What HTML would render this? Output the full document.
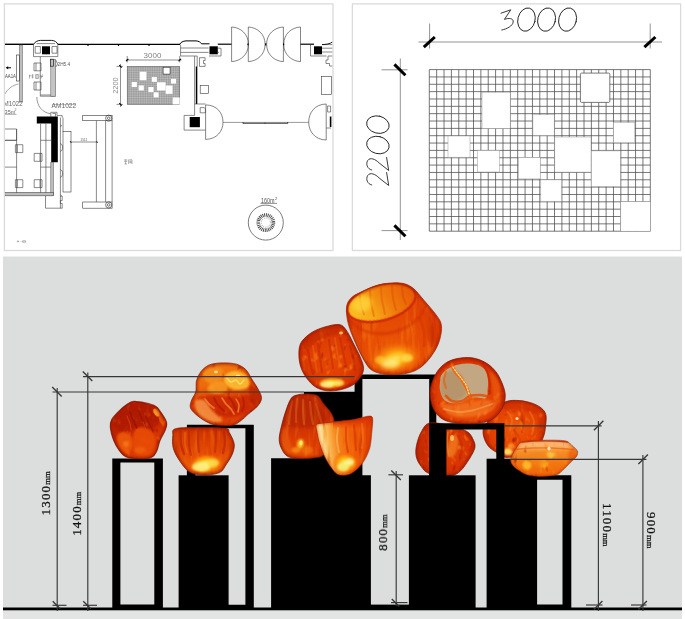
<!DOCTYPE html>
<html><head><meta charset="utf-8"><title>Glass installation</title>
<style>
html,body{margin:0;padding:0;background:#fff;}
body{width:685px;height:619px;overflow:hidden;font-family:"Liberation Sans",sans-serif;}
svg{display:block}
text{font-family:"Liberation Sans",sans-serif}
.serif{font-family:"Liberation Serif",serif}
</style></head><body>
<svg width="685" height="619" viewBox="0 0 685 619">
<defs>
<filter id="b05" color-interpolation-filters="sRGB" x="-30%" y="-30%" width="160%" height="160%"><feGaussianBlur stdDeviation="0.7"/></filter>
<filter id="soft" color-interpolation-filters="sRGB" x="-5%" y="-5%" width="110%" height="110%"><feGaussianBlur stdDeviation="0.45"/></filter>
<filter id="b1" color-interpolation-filters="sRGB" x="-20%" y="-20%" width="140%" height="140%"><feGaussianBlur stdDeviation="1"/></filter>
<filter id="b2" color-interpolation-filters="sRGB" x="-30%" y="-30%" width="160%" height="160%"><feGaussianBlur stdDeviation="2"/></filter>
<filter id="b3" color-interpolation-filters="sRGB" x="-40%" y="-40%" width="180%" height="180%"><feGaussianBlur stdDeviation="3.2"/></filter>
<filter id="mottle" color-interpolation-filters="sRGB" x="0" y="0" width="100%" height="100%">
  <feTurbulence type="fractalNoise" baseFrequency="0.16 0.11" numOctaves="2" seed="7" result="n"/>
  <feColorMatrix in="n" type="matrix" values="0 0 0 0 1  0 0 0 0 0.6  0 0 0 0 0.18  2.6 0 0 0 -1.5" result="hi"/>
  <feColorMatrix in="n" type="matrix" values="0 0 0 0 0.66  0 0 0 0 0.1  0 0 0 0 0.01  0 -2.8 0 0 1.0" result="lo"/>
  <feComposite in="hi" in2="SourceGraphic" operator="in" result="hi2"/>
  <feComposite in="lo" in2="SourceGraphic" operator="in" result="lo2"/>
  <feMerge><feMergeNode in="SourceGraphic"/><feMergeNode in="lo2"/><feMergeNode in="hi2"/></feMerge>
</filter>
<filter id="streak" color-interpolation-filters="sRGB" x="0" y="0" width="100%" height="100%">
  <feTurbulence type="fractalNoise" baseFrequency="0.22 0.035" numOctaves="2" seed="11" result="n"/>
  <feColorMatrix in="n" type="matrix" values="0 0 0 0 0.97  0 0 0 0 0.56  0 0 0 0 0.16  1.5 0 0 0 -0.72" result="hi"/>
  <feColorMatrix in="n" type="matrix" values="0 0 0 0 0.74  0 0 0 0 0.16  0 0 0 0 0.01  0 -1.8 0 0 0.7" result="lo"/>
  <feComposite in="hi" in2="SourceGraphic" operator="in" result="hi2"/>
  <feComposite in="lo" in2="SourceGraphic" operator="in" result="lo2"/>
  <feMerge><feMergeNode in="SourceGraphic"/><feMergeNode in="lo2"/><feMergeNode in="hi2"/></feMerge>
</filter>
<radialGradient id="glow" cx="50%" cy="50%" r="50%">
  <stop offset="0" stop-color="#fff6b0"/><stop offset="0.35" stop-color="#ffd23a"/><stop offset="0.7" stop-color="#ff9a18" stop-opacity="0.75"/><stop offset="1" stop-color="#f06a10" stop-opacity="0"/>
</radialGradient>
<radialGradient id="hl" cx="50%" cy="50%" r="50%">
  <stop offset="0" stop-color="#ffc860"/><stop offset="0.6" stop-color="#f89830" stop-opacity="0.7"/><stop offset="1" stop-color="#f07818" stop-opacity="0"/>
</radialGradient>
<radialGradient id="dk" cx="50%" cy="50%" r="50%">
  <stop offset="0" stop-color="#b42a04" stop-opacity="0.85"/><stop offset="1" stop-color="#c23206" stop-opacity="0"/>
</radialGradient>

<filter id="vsoft" color-interpolation-filters="sRGB" x="-5%" y="-5%" width="110%" height="110%">
  <feGaussianBlur stdDeviation="0.45"/>
  <feComponentTransfer><feFuncR type="gamma" exponent="1.05" amplitude="1" offset="0"/><feFuncG type="gamma" exponent="1.18" amplitude="1" offset="0"/><feFuncB type="gamma" exponent="1.4" amplitude="1" offset="0"/></feComponentTransfer>
</filter>
<radialGradient id="glow2" cx="50%" cy="55%" r="50%">
  <stop offset="0" stop-color="#ffe070"/><stop offset="0.3" stop-color="#ffc030"/><stop offset="0.65" stop-color="#f89018" stop-opacity="0.7"/><stop offset="1" stop-color="#f06a10" stop-opacity="0"/>
</radialGradient>

<linearGradient id="g1" gradientUnits="userSpaceOnUse" x1="125" y1="402" x2="150" y2="458"><stop offset="0" stop-color="#b82a08"/><stop offset="0.45" stop-color="#c4300a"/><stop offset="0.7" stop-color="#d8440c"/><stop offset="1" stop-color="#e4540e"/></linearGradient>
<clipPath id="c1"><path d="M133.6 401.4C136.6 401.2 141.5 402.1 145.2 402.9C148.9 403.7 153.0 404.7 155.6 406.2C158.2 407.7 158.9 409.3 160.7 412.0C162.5 414.7 165.8 419.3 166.6 422.3C167.4 425.3 166.4 427.1 165.3 430.1C164.2 433.1 161.5 437.0 160.1 440.4C158.7 443.8 158.3 447.9 156.9 450.7C155.5 453.5 154.7 455.8 151.7 457.2C148.7 458.6 143.1 458.9 138.8 458.8C134.5 458.7 129.0 458.2 125.8 456.8C122.6 455.4 121.4 453.4 119.4 450.7C117.4 448.0 115.1 444.3 113.6 440.4C112.1 436.5 110.6 430.9 110.3 427.5C110.0 424.1 110.1 422.5 111.6 419.7C113.1 416.9 116.8 413.3 119.4 410.7C122.0 408.1 124.7 405.8 127.1 404.2C129.5 402.6 130.6 401.6 133.6 401.4Z"/></clipPath>
<linearGradient id="g3" gradientUnits="userSpaceOnUse" x1="215" y1="362" x2="232" y2="426"><stop offset="0" stop-color="#f08a26"/><stop offset="0.3" stop-color="#ee7a1c"/><stop offset="0.5" stop-color="#e45a10"/><stop offset="0.8" stop-color="#dc460a"/><stop offset="1" stop-color="#e4561a"/></linearGradient>
<clipPath id="c3"><path d="M211.5 364.2C214.6 363.4 219.2 362.9 223.4 362.9C227.6 362.9 232.8 363.1 236.5 364.2C240.2 365.3 243.2 367.1 245.7 369.5C248.2 371.9 249.4 375.2 251.6 378.7C253.8 382.2 257.2 387.2 258.8 390.5C260.4 393.8 261.7 395.8 261.5 398.4C261.3 401.0 259.7 403.6 257.5 406.2C255.3 408.8 251.1 411.6 248.3 414.1C245.5 416.6 243.2 419.1 240.5 421.0C237.8 422.9 236.1 424.6 232.0 425.3C227.9 426.0 220.3 425.6 216.0 425.0C211.7 424.4 209.3 423.2 206.0 421.5C202.7 419.8 198.6 416.8 196.0 414.5C193.4 412.2 191.1 410.1 190.4 407.6C189.7 405.1 190.9 402.3 191.8 399.7C192.7 397.1 195.0 394.9 195.8 391.8C196.6 388.7 195.8 384.4 196.4 381.3C197.1 378.2 198.3 375.7 199.7 373.4C201.1 371.1 203.0 369.0 205.0 367.5C207.0 366.0 208.4 365.0 211.5 364.2Z"/></clipPath>
<linearGradient id="g2" gradientUnits="userSpaceOnUse" x1="200" y1="427" x2="200" y2="476"><stop offset="0" stop-color="#cc3c08"/><stop offset="0.2" stop-color="#d8480a"/><stop offset="0.5" stop-color="#e4580e"/><stop offset="0.8" stop-color="#ec6c12"/><stop offset="1" stop-color="#f08a20"/></linearGradient>
<clipPath id="c2"><path d="M175.0 428.9C178.8 427.5 187.0 427.6 195.3 427.5C203.6 427.4 219.3 427.4 225.0 428.3C230.7 429.2 227.9 430.1 229.4 432.7C230.9 435.3 233.7 440.3 234.2 443.8C234.7 447.3 233.7 450.5 232.4 453.9C231.1 457.3 228.7 460.9 226.5 464.0C224.3 467.1 223.4 470.8 219.5 472.6C215.6 474.4 208.4 475.1 203.3 475.0C198.2 474.9 193.2 474.3 189.2 471.8C185.2 469.3 181.8 464.0 179.1 460.0C176.4 456.0 174.2 451.9 173.2 447.8C172.1 443.8 172.5 438.9 172.8 435.7C173.1 432.5 171.2 430.3 175.0 428.9Z"/></clipPath>
<linearGradient id="g4" gradientUnits="userSpaceOnUse" x1="300" y1="394" x2="303" y2="459"><stop offset="0" stop-color="#c43a0e"/><stop offset="0.4" stop-color="#c83c0c"/><stop offset="0.62" stop-color="#d8460a"/><stop offset="0.85" stop-color="#e4540c"/><stop offset="1" stop-color="#ea6412"/></linearGradient>
<clipPath id="c4"><path d="M295.0 395.6C297.6 394.7 302.1 393.9 305.9 393.9C309.6 393.9 314.6 394.0 317.5 395.6C320.4 397.2 321.1 400.5 323.5 403.5C325.9 406.5 329.9 410.4 331.7 413.8C333.5 417.2 334.3 419.6 334.4 424.0C334.4 428.4 333.8 434.9 332.0 440.0C330.2 445.1 326.6 451.7 323.7 454.7C320.8 457.7 318.6 457.1 314.8 457.8C311.0 458.5 305.1 458.8 300.6 458.6C296.2 458.4 291.2 458.2 288.1 456.6C285.0 455.1 283.4 452.3 281.9 449.3C280.4 446.3 279.1 443.2 279.2 438.7C279.3 434.1 281.3 426.9 282.5 422.0C283.7 417.1 285.2 412.8 286.5 409.0C287.8 405.2 289.1 401.6 290.5 399.4C291.9 397.2 292.4 396.5 295.0 395.6Z"/></clipPath>
<linearGradient id="g7" gradientUnits="userSpaceOnUse" x1="316" y1="442" x2="373" y2="434"><stop offset="0" stop-color="#fff2d0"/><stop offset="0.12" stop-color="#fee2ac"/><stop offset="0.24" stop-color="#fabc6c"/><stop offset="0.38" stop-color="#f68e30"/><stop offset="0.62" stop-color="#f06c16"/><stop offset="1" stop-color="#ea5a0e"/></linearGradient>
<linearGradient id="g7r" gradientUnits="userSpaceOnUse" x1="340" y1="416" x2="340" y2="429"><stop offset="0" stop-color="#d63a08"/><stop offset="0.5" stop-color="#dc4208" stop-opacity="0.7"/><stop offset="1" stop-color="#e04a0a" stop-opacity="0"/></linearGradient>
<clipPath id="c7"><path d="M316.6 424.4C318.0 423.2 324.0 423.1 327.2 422.7C330.4 422.3 336.0 421.6 339.7 421.2C343.4 420.8 349.9 420.2 353.9 419.5C357.9 418.8 365.5 416.4 368.1 416.2C370.7 416.0 372.1 415.8 372.6 418.2C373.1 420.6 372.1 429.2 371.7 433.3C371.3 437.4 370.9 443.9 369.9 447.6C368.9 451.3 366.4 457.0 364.6 460.0C362.9 463.0 359.6 466.9 357.4 468.9C355.2 470.9 351.3 473.8 348.6 474.6C345.9 475.4 340.4 475.7 337.9 474.6C335.4 473.6 332.8 469.9 330.8 467.1C328.8 464.3 325.3 458.2 323.7 454.7C322.1 451.2 320.2 445.4 319.2 442.2C318.2 439.0 317.3 434.1 316.9 431.6C316.5 429.1 315.2 425.6 316.6 424.4Z"/></clipPath>
<radialGradient id="g5" gradientUnits="userSpaceOnUse" cx="330" cy="360" r="40"><stop offset="0" stop-color="#e85a10"/><stop offset="0.5" stop-color="#e04c0c"/><stop offset="0.85" stop-color="#d23e08"/><stop offset="1" stop-color="#c03406"/></radialGradient>
<clipPath id="c5"><path d="M312.2 332.2C316.1 329.8 320.5 328.2 325.0 326.9C329.5 325.6 335.6 324.0 339.1 324.5C342.6 325.0 343.8 326.9 346.1 329.9C348.4 332.9 350.8 338.2 353.1 342.7C355.4 347.2 358.4 352.5 360.1 356.8C361.9 361.1 363.6 364.9 363.6 368.4C363.6 371.9 361.9 375.1 360.1 377.8C358.4 380.5 356.2 382.9 353.1 384.8C350.0 386.8 345.7 388.5 341.4 389.5C337.1 390.5 331.7 391.2 327.4 390.8C323.1 390.4 319.2 389.3 315.7 387.1C312.2 384.9 308.9 381.3 306.4 377.8C303.9 374.3 301.8 370.4 300.5 366.1C299.2 361.8 298.7 356.2 298.9 352.1C299.1 348.0 299.5 344.9 301.7 341.6C303.9 338.3 308.3 334.6 312.2 332.2Z"/></clipPath>
<radialGradient id="g6" gradientUnits="userSpaceOnUse" cx="392" cy="345" r="54" fx="392" fy="362"><stop offset="0" stop-color="#ee7414"/><stop offset="0.4" stop-color="#ea600e"/><stop offset="0.8" stop-color="#e4520c"/><stop offset="1" stop-color="#d84408"/></radialGradient>
<linearGradient id="g6i" gradientUnits="userSpaceOnUse" x1="348" y1="312" x2="414" y2="290"><stop offset="0" stop-color="#fac840"/><stop offset="0.3" stop-color="#f8b430"/><stop offset="0.6" stop-color="#f08a1c"/><stop offset="1" stop-color="#e86810"/></linearGradient>
<clipPath id="c6"><path d="M360.1 292.5C364.8 290.2 372.2 286.4 378.8 284.8C385.4 283.2 394.2 282.5 399.8 283.0C405.4 283.5 408.5 284.9 412.6 287.8C416.7 290.8 420.4 296.2 424.3 300.7C428.2 305.2 433.1 310.6 436.0 314.7C438.9 318.8 440.8 320.9 441.4 325.2C442.0 329.5 441.0 335.5 439.5 340.4C438.0 345.3 435.6 349.9 432.5 354.4C429.4 358.9 425.1 364.1 420.8 367.3C416.5 370.5 412.2 372.1 406.8 373.3C401.4 374.5 393.8 375.0 388.1 374.6C382.5 374.2 376.8 373.0 372.9 370.8C369.0 368.6 367.6 366.1 364.7 361.4C361.8 356.7 358.1 348.9 355.4 342.7C352.7 336.5 349.9 329.9 348.4 324.1C346.9 318.3 346.1 312.0 346.5 307.7C346.9 303.4 348.4 300.9 350.7 298.4C353.0 295.9 355.4 294.8 360.1 292.5Z"/></clipPath>
<radialGradient id="g8" gradientUnits="userSpaceOnUse" cx="466" cy="398" r="42"><stop offset="0" stop-color="#ee6616"/><stop offset="0.5" stop-color="#e85610"/><stop offset="0.85" stop-color="#dc4408"/><stop offset="1" stop-color="#c83606"/></radialGradient>
<clipPath id="c8"><path d="M457.0 358.6C461.4 357.7 467.4 357.2 472.0 357.8C476.6 358.4 480.8 360.1 484.5 362.0C488.2 363.9 491.3 366.6 494.0 369.5C496.7 372.4 498.6 375.4 500.5 379.5C502.4 383.6 504.8 389.4 505.2 393.9C505.6 398.4 504.7 402.6 503.0 406.5C501.3 410.4 498.4 414.5 495.1 417.2C491.8 419.9 488.6 421.5 483.4 422.6C478.2 423.7 469.8 423.8 464.0 423.6C458.2 423.4 452.7 422.8 448.5 421.6C444.3 420.4 441.5 418.7 438.8 416.2C436.1 413.7 433.9 410.1 432.5 406.5C431.1 402.9 430.4 398.6 430.2 394.9C430.0 391.2 430.2 388.2 431.4 384.3C432.6 380.4 434.8 375.1 437.2 371.6C439.6 368.1 442.2 365.4 445.5 363.2C448.8 361.0 452.6 359.5 457.0 358.6Z"/></clipPath>
<radialGradient id="g9" gradientUnits="userSpaceOnUse" cx="448" cy="448" r="34"><stop offset="0" stop-color="#e4520e"/><stop offset="0.6" stop-color="#d84208"/><stop offset="1" stop-color="#c43406"/></radialGradient>
<clipPath id="c9"><path d="M430.0 423.0C424.9 423.9 423.6 428.0 421.4 431.7C419.1 435.4 417.4 441.1 416.5 445.3C415.6 449.5 415.5 453.3 416.3 456.9C417.1 460.4 419.2 463.9 421.3 466.6C423.4 469.4 424.6 471.9 429.1 473.4C433.6 474.9 443.6 475.9 448.5 475.8C453.4 475.7 455.6 474.7 458.6 472.5C461.7 470.3 464.1 466.9 466.8 462.8C469.5 458.8 473.8 452.2 474.8 448.2C475.8 444.2 474.0 441.4 472.7 438.6C471.4 435.8 470.3 433.6 466.9 431.5C463.4 429.4 458.1 427.4 452.0 426.0C445.9 424.6 435.1 422.1 430.0 423.0Z"/></clipPath>
<radialGradient id="g10" gradientUnits="userSpaceOnUse" cx="516" cy="428" r="38"><stop offset="0" stop-color="#ee6a16"/><stop offset="0.45" stop-color="#e8560e"/><stop offset="0.85" stop-color="#dc4608"/><stop offset="1" stop-color="#c83806"/></radialGradient>
<clipPath id="c10"><path d="M506.0 401.6C510.0 400.0 515.5 400.3 519.9 400.6C524.2 400.9 528.5 402.0 532.1 403.2C535.7 404.4 539.0 406.1 541.3 408.0C543.6 409.9 545.2 411.9 545.9 414.9C546.6 417.8 546.0 422.1 545.6 425.7C545.2 429.3 544.9 433.0 543.6 436.4C542.3 439.8 541.1 443.1 538.0 446.0C534.9 448.9 530.3 452.1 525.0 454.0C519.7 455.9 510.8 457.7 506.0 457.4C501.2 457.1 498.8 453.7 496.0 452.0C493.2 450.3 491.1 449.2 489.2 447.1C487.3 445.0 485.6 442.3 484.6 439.5C483.6 436.7 482.7 433.1 483.1 430.3C483.5 427.6 484.9 426.4 487.0 423.0C489.1 419.6 492.8 413.6 496.0 410.0C499.2 406.4 502.0 403.2 506.0 401.6Z"/></clipPath>
<linearGradient id="g11" gradientUnits="userSpaceOnUse" x1="540" y1="440" x2="540" y2="477"><stop offset="0" stop-color="#fccaa2"/><stop offset="0.2" stop-color="#fab880"/><stop offset="0.32" stop-color="#f69c48"/><stop offset="0.55" stop-color="#f48a28"/><stop offset="1" stop-color="#f07418"/></linearGradient>
<clipPath id="c11"><path d="M520.6 442.5C522.7 441.5 526.3 441.0 530.6 440.7C534.9 440.4 543.7 440.2 549.0 440.2C554.3 440.2 562.3 440.2 565.8 441.0C569.2 441.8 570.3 444.1 572.0 445.6C573.7 447.1 576.6 449.3 577.3 450.9C578.0 452.5 577.6 454.6 576.6 456.3C575.6 458.0 572.5 460.3 570.4 462.4C568.3 464.5 564.9 468.3 562.8 470.1C560.7 471.9 559.8 473.8 556.6 474.7C553.4 475.6 545.7 476.4 541.3 476.4C536.9 476.4 531.0 475.8 527.5 474.9C524.0 474.0 520.6 471.6 518.3 470.1C516.0 468.6 513.3 466.3 512.2 464.7C511.1 463.1 510.6 461.1 510.7 459.4C510.8 457.7 512.1 455.0 513.0 453.2C513.9 451.4 515.7 448.7 516.8 447.1C517.9 445.5 518.5 443.5 520.6 442.5Z"/></clipPath>
<clipPath id="cpl"><rect x="5" y="4.5" width="327.4" height="245.4"/></clipPath>
</defs>
<rect width="685" height="619" fill="#fff"/>
<!-- top-left panel -->
<rect x="4.4" y="3.9" width="328.6" height="246.6" fill="#fff" stroke="#dadada" stroke-width="1.3"/>
<!-- top-right panel -->
<rect x="352.4" y="3.9" width="328.2" height="246.6" fill="#fff" stroke="#dadada" stroke-width="1.3"/>
<!-- bottom panel -->
<rect x="3" y="256.5" width="679" height="362.5" fill="#dcdedd"/>
<rect x="3" y="610" width="679" height="9" fill="#e3e5e4"/>
<g id="plan" clip-path="url(#cpl)" opacity="0.999">
<g fill="none" stroke="#3a3a3a" stroke-width="0.6">
<path d="M4.8 44.3H33.5" stroke="#000" stroke-width="1.4"/>
<path d="M58 44.3H180" stroke="#000" stroke-width="1.3"/>
<path d="M88 44.3v1.8M118.5 44.3v1.8M149 44.3v1.8" stroke="#000" stroke-width="1.2"/>
<path d="M33.5 44.6C34.5 42 37.5 40.4 40.5 40.4H51.5C54.5 40.4 57 42 58 44.6" stroke="#000" stroke-width="0.9"/>
<path d="M33.5 44.3V56.6H57.8V44.3M35.2 46.5H40.4V53.2H35.2ZM52 46.5H57V53.2H52ZM36.5 43.6H55"/>
<rect x="42" y="46.3" width="8" height="8" fill="#000" stroke="none"/>
<rect x="19.4" y="45" width="3" height="57" fill="#bdbdbd" stroke="#555" stroke-width="0.5"/>
<rect x="16.6" y="55" width="2.7" height="26"/>
<path d="M7 67.8H11" stroke="#000" stroke-width="1"/><path d="M5.6 67.8L8.2 66.3V69.3Z" fill="#000" stroke="none"/>
<path d="M4.8 94C8 88.5 13 85 18.5 84" stroke="#666"/>
<path d="M34 63H41V70.8H34ZM36 63V70.8M34 82H41V90H34ZM36 82V90"/>
<path d="M40.3 56.8V96.2H55.7M40.3 95H51"/>
<rect x="50.8" y="59.4" width="4.9" height="36.8" fill="#c4c4c4" stroke="#555" stroke-width="0.5"/>
<rect x="50.4" y="59.2" width="3.2" height="7" stroke="#222" stroke-width="0.7"/>
<path d="M55.8 60L57.6 64L55.8 67" stroke="#444"/>
<path d="M36.8 97C37 106 42 112.5 50.8 113.8" stroke="#555"/>
<path d="M50.8 112.3H57V115.6H62.2V117.6M50.8 112.3V116.6M52.5 113.5H55.5V116.5"/>
<path d="M36.8 116.6H57.8V162.2H51.2V123.6H36.8Z" fill="#000" stroke="none"/>
<path d="M60.4 117.6V208.2M63 117.6V131.5M60.4 125l1.2 0.8-1.2 0.8M60.4 143.5C62 144 62.6 146 62.6 147.5C62.6 149 62 151 60.4 151.5M60.4 169.5C62 170 62.6 172 62.6 173.5C62.6 175 62 177 60.4 177.5M60.4 195l1.4 0.9-1.4 0.9"/>
<rect x="63" y="131.5" width="8" height="60.5"/>
<path d="M4.8 129H16.6V140.3H4.8M16.6 129V193M40.6 123.6V193M45.9 123.6V193M4.8 140.3H16.6M40.6 140.3H51.2M4.8 167.1H16.6M40.6 167.1H51"/>
<path d="M15.4 144.7H22.8V152.6H15.4ZM17.4 144.7V152.6M34.2 153.4H42V161.3H34.2ZM40 153.4V161.3M15.4 179.7H22.8V187.6H15.4ZM17.4 179.7V187.6M34.2 179.7H42V187.6H34.2ZM40 179.7V187.6"/>
<rect x="50.8" y="162.2" width="2.6" height="33" fill="#bdbdbd" stroke="#555" stroke-width="0.5"/>
<rect x="4.8" y="192.6" width="48.6" height="3.2" fill="#bdbdbd" stroke="#444" stroke-width="0.6"/>
<path d="M45.5 196V208.2H62.2V203.5H60.4V200.5H62.2V196"/>
<path d="M70.5 142H97.2" stroke="#444"/><path d="M70.2 141.2l1 1.6M96.6 141.2l1 1.6" stroke="#000" stroke-width="0.9"/>
<rect x="82.7" y="115.4" width="29.4" height="5.3"/>
<path d="M96.4 120.7V202M105.6 120.7V202M112.1 120.7V202"/>
<rect x="82.7" y="202" width="29.4" height="6.2"/>
<circle cx="108.7" cy="118.2" r="3.1" stroke="#222"/><circle cx="108.7" cy="118.2" r="1.3" stroke="#222"/>
<circle cx="108.7" cy="204.9" r="3.1" stroke="#222"/><circle cx="108.7" cy="204.9" r="1.3" stroke="#222"/>
<path d="M126.3 60H181.5M127.2 56V62.5M179.7 56V62.5" stroke="#444"/>
<path d="M126 61.2L128.4 58.8M178.5 61.2L180.9 58.8" stroke="#000" stroke-width="1.1"/>
<path d="M120.5 64V107M116.5 66.4H123M116.5 104.4H123" stroke="#444"/>
<path d="M119.3 65.2L121.7 67.6M119.3 103.2L121.7 105.6" stroke="#000" stroke-width="1.1"/>
<path d="M179.7 44.6C180.5 42.3 183 41 186 40.9H196C198.6 41 200.6 42.3 201.6 43.8H209.5" stroke="#000" stroke-width="1"/>
<path d="M180.6 45V56H194.6V104M180.6 48H208.6M180.6 52.4H208.6M197.2 56V104M194.6 56H197.2M199.5 57.7H205.1V60.5H203.5V63.5H205.1V66.4H199.5Z"/>
<path d="M196.4 66.4V104" stroke="#000" stroke-width="1.2"/>
<rect x="209.5" y="46.3" width="8.3" height="8" fill="#000" stroke="none"/>
<path d="M217.8 44.2H231.6" stroke="#000" stroke-width="1.2"/><path d="M217.8 48.2H221V56H209M217.8 52.4H219"/>
<rect x="200.2" y="85.7" width="8.4" height="7.9"/>
<path d="M194.6 104V115.4H184.1V130.1H205.4M194.6 104H205.6M200.2 107.6H204.2C205.2 108 205.4 109 205.4 110V112.8H200.2Z"/>
<rect x="189.7" y="117" width="10.2" height="10.2" fill="#000" stroke="none"/>
<path d="M205.6 104.9V139.4M205.6 104.9C217 105 223 113 223 122.2C223 131 217 139.2 205.6 139.4" stroke="#333"/>
<path d="M223 122.4H308.7" stroke="#555"/><path d="M243 123.3H287.7M243 122V123.6M287.7 122V123.6M265 122.6V123.8" stroke="#333" stroke-width="0.9"/>
<path d="M326.2 104V140M326.2 104C315 104.2 308.7 112.5 308.7 122.2C308.7 131.5 315 139.8 326.2 140" stroke="#333"/>
<path d="M327.6 106H330.6V112H327.6ZM326.2 128H331"/><path d="M330.6 116.5V127" stroke="#000" stroke-width="1.6"/>
<path d="M231.6 27V61.6M231.6 27C240.6 27.4 248.4 34 248.4 44.3C248.4 54.5 240.6 61.2 231.6 61.6" stroke="#333"/>
<path d="M248.3 27V61.6M248.3 27C257.3 27.4 265.1 34 265.1 44.3C265.1 54.5 257.3 61.2 248.3 61.6" stroke="#333"/>
<path d="M283.4 27V61.6M283.4 27C274.4 27.4 266.59999999999997 34 266.59999999999997 44.3C266.59999999999997 54.5 274.4 61.2 283.4 61.6" stroke="#333"/>
<path d="M300.5 27V61.6M300.5 27C291.5 27.4 283.7 34 283.7 44.3C283.7 54.5 291.5 61.2 300.5 61.6" stroke="#333"/>
<path d="M248 43.5V45.3M265.7 43.2V45.6M283.6 43.5V45.3" stroke="#000" stroke-width="1.2"/>
<path d="M300.5 44.2H314" stroke="#000" stroke-width="1.2"/>
<rect x="314" y="46.3" width="8" height="8" fill="#000" stroke="none"/>
<path d="M310.5 44.2V56H326.5M322 44.6H332.6M322 48.2H332.6M322 52H332.6M332.6 56H328V60H326V63.5H329.5V66H332.6"/>
<path d="M322 44.6C326 44.4 330 44 332.4 42" stroke="#000" stroke-width="0.9"/>
<rect x="321.6" y="76.4" width="9.8" height="18"/>
<circle cx="265.8" cy="222.6" r="17.5" stroke="#444" stroke-width="0.7"/>
<circle cx="265.8" cy="222.6" r="7.6" stroke="#222" stroke-width="3.6" stroke-dasharray="0.9 0.8" opacity="0.85"/>
<circle cx="265.8" cy="222.6" r="4.6" stroke="#555" stroke-width="1" stroke-dasharray="0.6 1.6"/>
<path d="M260.5 203.4H277" stroke="#444"/>
</g>
<rect x="127.2" y="66.4" width="52.5" height="38.0" fill="#8c8c8c"/>
<path d="M128.95 66.4V104.4M130.70 66.4V104.4M132.45 66.4V104.4M134.20 66.4V104.4M135.95 66.4V104.4M137.70 66.4V104.4M139.45 66.4V104.4M141.20 66.4V104.4M142.95 66.4V104.4M144.70 66.4V104.4M146.45 66.4V104.4M148.20 66.4V104.4M149.95 66.4V104.4M151.70 66.4V104.4M153.45 66.4V104.4M155.20 66.4V104.4M156.95 66.4V104.4M158.70 66.4V104.4M160.45 66.4V104.4M162.20 66.4V104.4M163.95 66.4V104.4M165.70 66.4V104.4M167.45 66.4V104.4M169.20 66.4V104.4M170.95 66.4V104.4M172.70 66.4V104.4M174.45 66.4V104.4M176.20 66.4V104.4M177.95 66.4V104.4M127.2 68.13H179.7M127.2 69.85H179.7M127.2 71.58H179.7M127.2 73.31H179.7M127.2 75.04H179.7M127.2 76.76H179.7M127.2 78.49H179.7M127.2 80.22H179.7M127.2 81.95H179.7M127.2 83.67H179.7M127.2 85.40H179.7M127.2 87.13H179.7M127.2 88.85H179.7M127.2 90.58H179.7M127.2 92.31H179.7M127.2 94.04H179.7M127.2 95.76H179.7M127.2 97.49H179.7M127.2 99.22H179.7M127.2 100.95H179.7M127.2 102.67H179.7" stroke="#e4e4e4" stroke-width="0.62" fill="none" opacity="0.55"/>
<rect x="127.2" y="66.4" width="52.5" height="38.0" fill="none" stroke="#555" stroke-width="0.5"/>
<rect x="163.09" y="67.22" width="6.98" height="6.89" fill="#fff" stroke="#222" stroke-width="0.6"/>
<rect x="139.72" y="71.71" width="6.70" height="8.51" fill="#fff"/>
<rect x="151.81" y="77.03" width="5.06" height="4.82" fill="#fff"/>
<rect x="170.96" y="78.82" width="5.06" height="4.77" fill="#fff"/>
<rect x="131.64" y="82.01" width="5.23" height="4.99" fill="#fff"/>
<rect x="157.01" y="82.25" width="8.60" height="8.25" fill="#fff"/>
<rect x="138.60" y="85.42" width="5.25" height="5.06" fill="#fff"/>
<rect x="148.34" y="87.07" width="5.20" height="5.03" fill="#fff"/>
<rect x="165.71" y="85.52" width="6.87" height="8.35" fill="#fff"/>
<rect x="153.69" y="92.34" width="4.92" height="5.03" fill="#fff"/>
<rect x="172.69" y="97.46" width="7.01" height="6.94" fill="#fff"/>
<text x="51.6" y="107.6" font-size="7.6" fill="#666" textLength="24.6" lengthAdjust="spacingAndGlyphs">AM1022</text>
<path d="M52 104.6H76" stroke="#777" stroke-width="0.5"/>
<text x="-0.6" y="106" font-size="7.6" fill="#666" textLength="23.4" lengthAdjust="spacingAndGlyphs">AM1022</text>
<text x="4.6" y="113.6" font-size="5.6" fill="#666" >35m</text>
<text x="14.6" y="111" font-size="3.6" fill="#666" >2</text>
<path d="M4.6 114.4H16.5" stroke="#666" stroke-width="0.5"/>
<text x="5" y="77.8" font-size="5.4" fill="#444" textLength="11" lengthAdjust="spacingAndGlyphs">AA1A</text>
<text x="57.6" y="66.3" font-size="4.8" fill="#555" textLength="12.6" lengthAdjust="spacingAndGlyphs">2H5.4</text>
<text x="143.6" y="58.2" font-size="7" fill="#808080" textLength="17.8" lengthAdjust="spacingAndGlyphs">3000</text>
<text transform="translate(118.3,93.8) rotate(-90)" font-size="7" fill="#888" textLength="16.4" lengthAdjust="spacingAndGlyphs">2200</text>
<text x="261" y="203" font-size="6.4" fill="#555" textLength="13.6" lengthAdjust="spacingAndGlyphs">160m</text>
<text x="275" y="200.2" font-size="4.2" fill="#555" >2</text>
<text x="80.6" y="141.3" font-size="3" fill="#555" >1511</text>
<g stroke="#666" stroke-width="0.5" fill="none">
<path d="M29.5 74.6v4M29 75.8h2.4M32.4 74.4v4.2M31.8 75h2M33.8 77h-2M35.6 74.6h3v3.8h-3zM37 74.2v4.6M39.6 76.4h3.4M40 74.6l1.4 1.6M42.6 74.4l-1.6 4.2"/>
<path d="M124 160h3.4M125.6 159.4v1.2M124.2 161.4l3 0M125.6 161.4v2.6M124.4 164h2.6M128.6 159.8v4.2M128.6 159.8h3.4v4.2M129.8 161.2h1.4v1.6h-1.4z"/>
<path d="M16.8 241.4h2.2M18 240.6v1.6M20.6 241.6h0.8M22.6 240.8h3v1.4h-3z"/>
</g>
</g>
<g id="gridpanel">
<g stroke="#4a4a4a" stroke-width="0.75" fill="none">
<path d="M429.30 69.60V231.20M436.67 69.60V231.20M444.03 69.60V231.20M451.40 69.60V231.20M458.77 69.60V231.20M466.13 69.60V231.20M473.50 69.60V231.20M480.87 69.60V231.20M488.23 69.60V231.20M495.60 69.60V231.20M502.97 69.60V231.20M510.33 69.60V231.20M517.70 69.60V231.20M525.07 69.60V231.20M532.43 69.60V231.20M539.80 69.60V231.20M547.17 69.60V231.20M554.53 69.60V231.20M561.90 69.60V231.20M569.27 69.60V231.20M576.63 69.60V231.20M584.00 69.60V231.20M591.37 69.60V231.20M598.73 69.60V231.20M606.10 69.60V231.20M613.47 69.60V231.20M620.83 69.60V231.20M628.20 69.60V231.20M635.57 69.60V231.20M642.93 69.60V231.20M650.30 69.60V231.20M429.30 69.60H650.30M429.30 76.95H650.30M429.30 84.29H650.30M429.30 91.64H650.30M429.30 98.98H650.30M429.30 106.33H650.30M429.30 113.67H650.30M429.30 121.02H650.30M429.30 128.36H650.30M429.30 135.71H650.30M429.30 143.05H650.30M429.30 150.40H650.30M429.30 157.75H650.30M429.30 165.09H650.30M429.30 172.44H650.30M429.30 179.78H650.30M429.30 187.13H650.30M429.30 194.47H650.30M429.30 201.82H650.30M429.30 209.16H650.30M429.30 216.51H650.30M429.30 223.85H650.30M429.30 231.20H650.30"/>
</g>
<rect x="580.4" y="73.1" width="29.4" height="29.3" rx="1.2" fill="#fff" stroke="#555" stroke-width="0.8"/>
<rect x="482.0" y="92.2" width="28.2" height="36.2" fill="#fff" stroke="#9a9a9a" stroke-width="0.5"/>
<rect x="532.9" y="114.8" width="21.3" height="20.5" fill="#fff" stroke="#9a9a9a" stroke-width="0.5"/>
<rect x="613.5" y="122.4" width="21.3" height="20.3" fill="#fff" stroke="#9a9a9a" stroke-width="0.5"/>
<rect x="448.0" y="136.0" width="22.0" height="21.2" fill="#fff" stroke="#9a9a9a" stroke-width="0.5"/>
<rect x="554.8" y="137.0" width="36.2" height="35.1" fill="#fff" stroke="#9a9a9a" stroke-width="0.5"/>
<rect x="477.3" y="150.5" width="22.1" height="21.5" fill="#fff" stroke="#9a9a9a" stroke-width="0.5"/>
<rect x="518.3" y="157.5" width="21.9" height="21.4" fill="#fff" stroke="#9a9a9a" stroke-width="0.5"/>
<rect x="591.4" y="150.9" width="28.9" height="35.5" fill="#fff" stroke="#9a9a9a" stroke-width="0.5"/>
<rect x="540.8" y="179.9" width="20.7" height="21.4" fill="#fff" stroke="#9a9a9a" stroke-width="0.5"/>
<rect x="620.8" y="201.7" width="29.5" height="29.5" fill="#fff" stroke="#9a9a9a" stroke-width="0.5"/>
<!-- dimension lines right panel -->
<g stroke="#666" stroke-width="0.7" fill="none">
  <path d="M418.5 42H662"/>
  <path d="M429.6 23.5V48.5"/>
  <path d="M650.2 23.5V48.5"/>
  <path d="M400.3 58.5V240"/>
  <path d="M381.5 69.8H407.5"/>
  <path d="M381.5 230.6H407.5"/>
</g>
<g stroke="#000" stroke-width="3" stroke-linecap="butt">
  <path d="M423.8 47.2L434.8 37"/>
  <path d="M644.4 47.2L655.4 37"/>
  <path d="M394.4 64.4L405.4 75.2"/>
  <path d="M394.4 225.4L405.4 236.2"/>
</g>
<!-- 3000 -->
<g stroke="#222" stroke-width="0.9" fill="none" stroke-linecap="round" stroke-linejoin="round">
  <path d="M501 13.2L510.8 9.8L504.4 19.4C509 17.6 513.6 18.4 513.2 22C512.6 26 507 29 501.8 30"/>
  <ellipse cx="526.5" cy="19.6" rx="8.6" ry="11.8" transform="rotate(14 526.5 19.6)"/>
  <ellipse cx="546.6" cy="19.6" rx="8.8" ry="11.8" transform="rotate(14 546.6 19.6)"/>
  <ellipse cx="567.6" cy="19.6" rx="8.8" ry="11.8" transform="rotate(14 567.6 19.6)"/>
</g>
<!-- 2200 vertical, reading bottom to top -->
<g stroke="#222" stroke-width="0.9" fill="none" stroke-linecap="round" stroke-linejoin="round" transform="translate(389.2,186) rotate(-90)">
  <!-- glyphs in natural orientation: x to right, y up negative; height ~22.5 -->
  <path d="M1 -17.5C2 -22 7 -23.6 10.5 -21.5C14 -19 12 -14 8 -10L0.5 -0.5L13.5 -2.6"/>
  <path d="M16 -17.5C17 -22 22 -23.6 25.5 -21.5C29 -19 27 -14 23 -10L15.5 -0.5L28.5 -2.6"/>
  <ellipse cx="41" cy="-11.3" rx="8.6" ry="11.4" transform="rotate(14 41 -11.3)"/>
  <ellipse cx="61.4" cy="-11.3" rx="8.6" ry="11.4" transform="rotate(14 61.4 -11.3)"/>
</g>

</g>
<g id="elev">
<rect x="3" y="607.5" width="679" height="2.8" fill="#000"/>
<path fill="#000" fill-rule="evenodd" d="M186.9 424.7H253.8V608H186.9ZM195.5 428.3H245.4V604.8H195.5Z"/>
<path fill="#000" d="M304 391.7H354.6V374.4H436.3V476H429.2V378.9H362.4V476H304Z"/>
<g filter="url(#vsoft)"><g clip-path="url(#c9)"><g filter="url(#mottle)"><path d="M430.0 423.0C424.9 423.9 423.6 428.0 421.4 431.7C419.1 435.4 417.4 441.1 416.5 445.3C415.6 449.5 415.5 453.3 416.3 456.9C417.1 460.4 419.2 463.9 421.3 466.6C423.4 469.4 424.6 471.9 429.1 473.4C433.6 474.9 443.6 475.9 448.5 475.8C453.4 475.7 455.6 474.7 458.6 472.5C461.7 470.3 464.1 466.9 466.8 462.8C469.5 458.8 473.8 452.2 474.8 448.2C475.8 444.2 474.0 441.4 472.7 438.6C471.4 435.8 470.3 433.6 466.9 431.5C463.4 429.4 458.1 427.4 452.0 426.0C445.9 424.6 435.1 422.1 430.0 423.0Z" fill="url(#g9)"/></g><ellipse cx="453" cy="446" rx="5" ry="12" fill="#f08a3c" transform="rotate(12 453 446)" opacity="0.8" filter="url(#b1)"/><ellipse cx="452" cy="438" rx="2" ry="3" fill="#ffd890" opacity="0.8" filter="url(#soft)"/><ellipse cx="424" cy="452" rx="5" ry="12" fill="url(#dk)" opacity="0.55"/><path d="M458.0 436.0C458.7 437.7 461.7 442.3 462.0 446.0C462.3 449.7 460.3 456.0 460.0 458.0" fill="none" stroke="#c03406" stroke-width="2.4" opacity="0.5" stroke-linecap="round" filter="url(#b05)"/><path d="M448.0 432.0C447.8 434.0 446.8 440.0 447.0 444.0C447.2 448.0 448.7 454.0 449.0 456.0" fill="none" stroke="#f49a50" stroke-width="1.6" opacity="0.6" stroke-linecap="round" filter="url(#b05)"/><path d="M430.0 423.0C424.9 423.9 423.6 428.0 421.4 431.7C419.1 435.4 417.4 441.1 416.5 445.3C415.6 449.5 415.5 453.3 416.3 456.9C417.1 460.4 419.2 463.9 421.3 466.6C423.4 469.4 424.6 471.9 429.1 473.4C433.6 474.9 443.6 475.9 448.5 475.8C453.4 475.7 455.6 474.7 458.6 472.5C461.7 470.3 464.1 466.9 466.8 462.8C469.5 458.8 473.8 452.2 474.8 448.2C475.8 444.2 474.0 441.4 472.7 438.6C471.4 435.8 470.3 433.6 466.9 431.5C463.4 429.4 458.1 427.4 452.0 426.0C445.9 424.6 435.1 422.1 430.0 423.0Z" fill="none" stroke="#a82606" stroke-width="4" opacity="0.7" filter="url(#b1)"/></g><path d="M430.0 423.0C424.9 423.9 423.6 428.0 421.4 431.7C419.1 435.4 417.4 441.1 416.5 445.3C415.6 449.5 415.5 453.3 416.3 456.9C417.1 460.4 419.2 463.9 421.3 466.6C423.4 469.4 424.6 471.9 429.1 473.4C433.6 474.9 443.6 475.9 448.5 475.8C453.4 475.7 455.6 474.7 458.6 472.5C461.7 470.3 464.1 466.9 466.8 462.8C469.5 458.8 473.8 452.2 474.8 448.2C475.8 444.2 474.0 441.4 472.7 438.6C471.4 435.8 470.3 433.6 466.9 431.5C463.4 429.4 458.1 427.4 452.0 426.0C445.9 424.6 435.1 422.1 430.0 423.0Z" fill="none" stroke="#8a2206" stroke-width="1.0" stroke-opacity="0.75"/></g>
<g filter="url(#vsoft)"><g clip-path="url(#c10)"><g filter="url(#mottle)"><path d="M506.0 401.6C510.0 400.0 515.5 400.3 519.9 400.6C524.2 400.9 528.5 402.0 532.1 403.2C535.7 404.4 539.0 406.1 541.3 408.0C543.6 409.9 545.2 411.9 545.9 414.9C546.6 417.8 546.0 422.1 545.6 425.7C545.2 429.3 544.9 433.0 543.6 436.4C542.3 439.8 541.1 443.1 538.0 446.0C534.9 448.9 530.3 452.1 525.0 454.0C519.7 455.9 510.8 457.7 506.0 457.4C501.2 457.1 498.8 453.7 496.0 452.0C493.2 450.3 491.1 449.2 489.2 447.1C487.3 445.0 485.6 442.3 484.6 439.5C483.6 436.7 482.7 433.1 483.1 430.3C483.5 427.6 484.9 426.4 487.0 423.0C489.1 419.6 492.8 413.6 496.0 410.0C499.2 406.4 502.0 403.2 506.0 401.6Z" fill="url(#g10)"/></g><path d="M500.0 404.0C501.7 402.7 509.0 402.0 514.0 402.0C519.0 402.0 525.7 402.7 530.0 404.0C534.3 405.3 539.0 408.3 540.0 410.0C541.0 411.7 539.3 414.0 536.0 414.0C532.7 414.0 525.3 410.7 520.0 410.0C514.7 409.3 507.3 411.0 504.0 410.0C500.7 409.0 498.3 405.3 500.0 404.0Z" fill="#cc3a08" opacity="0.55" filter="url(#b1)"/><path d="M508.0 412.0C508.7 413.3 511.7 417.0 512.0 420.0C512.3 423.0 510.3 428.3 510.0 430.0" fill="none" stroke="#f4883a" stroke-width="2" opacity="0.55" stroke-linecap="round" filter="url(#b05)"/><path d="M520.0 410.0C520.7 411.7 523.7 416.3 524.0 420.0C524.3 423.7 522.3 430.0 522.0 432.0" fill="none" stroke="#d04008" stroke-width="2.2" opacity="0.5" stroke-linecap="round" filter="url(#b05)"/><path d="M530.0 412.0C530.7 413.7 533.7 418.3 534.0 422.0C534.3 425.7 532.3 432.0 532.0 434.0" fill="none" stroke="#f4883a" stroke-width="2" opacity="0.5" stroke-linecap="round" filter="url(#b05)"/><path d="M514.0 430.0C515.0 431.7 519.3 437.0 520.0 440.0C520.7 443.0 518.3 446.7 518.0 448.0" fill="none" stroke="#d04008" stroke-width="2.2" opacity="0.45" stroke-linecap="round" filter="url(#b05)"/><ellipse cx="517" cy="418.5" rx="1.6" ry="1.6" fill="#fff0d0" opacity="0.9" filter="url(#soft)"/><ellipse cx="508" cy="452" rx="4.6" ry="4" fill="#ffe48a" opacity="0.95" filter="url(#b1)"/><ellipse cx="511" cy="446" rx="3" ry="3" fill="#ffb850" opacity="0.7" filter="url(#b1)"/><ellipse cx="541" cy="426" rx="5" ry="16" fill="url(#dk)" opacity="0.65"/><ellipse cx="488" cy="436" rx="4" ry="9" fill="url(#dk)" opacity="0.5"/><path d="M506.0 401.6C510.0 400.0 515.5 400.3 519.9 400.6C524.2 400.9 528.5 402.0 532.1 403.2C535.7 404.4 539.0 406.1 541.3 408.0C543.6 409.9 545.2 411.9 545.9 414.9C546.6 417.8 546.0 422.1 545.6 425.7C545.2 429.3 544.9 433.0 543.6 436.4C542.3 439.8 541.1 443.1 538.0 446.0C534.9 448.9 530.3 452.1 525.0 454.0C519.7 455.9 510.8 457.7 506.0 457.4C501.2 457.1 498.8 453.7 496.0 452.0C493.2 450.3 491.1 449.2 489.2 447.1C487.3 445.0 485.6 442.3 484.6 439.5C483.6 436.7 482.7 433.1 483.1 430.3C483.5 427.6 484.9 426.4 487.0 423.0C489.1 419.6 492.8 413.6 496.0 410.0C499.2 406.4 502.0 403.2 506.0 401.6Z" fill="none" stroke="#a82606" stroke-width="4" opacity="0.7" filter="url(#b1)"/></g><path d="M506.0 401.6C510.0 400.0 515.5 400.3 519.9 400.6C524.2 400.9 528.5 402.0 532.1 403.2C535.7 404.4 539.0 406.1 541.3 408.0C543.6 409.9 545.2 411.9 545.9 414.9C546.6 417.8 546.0 422.1 545.6 425.7C545.2 429.3 544.9 433.0 543.6 436.4C542.3 439.8 541.1 443.1 538.0 446.0C534.9 448.9 530.3 452.1 525.0 454.0C519.7 455.9 510.8 457.7 506.0 457.4C501.2 457.1 498.8 453.7 496.0 452.0C493.2 450.3 491.1 449.2 489.2 447.1C487.3 445.0 485.6 442.3 484.6 439.5C483.6 436.7 482.7 433.1 483.1 430.3C483.5 427.6 484.9 426.4 487.0 423.0C489.1 419.6 492.8 413.6 496.0 410.0C499.2 406.4 502.0 403.2 506.0 401.6Z" fill="none" stroke="#8a2206" stroke-width="1.0" stroke-opacity="0.75"/></g>
<path fill="#000" d="M429.2 423.2H504.4V460H496.3V429.6H446.4V476H429.2Z"/>
<rect x="408.9" y="475.3" width="66.7" height="133" fill="#000"/>
<rect x="370" y="604.6" width="40" height="4" fill="#000"/>
<rect x="486.6" y="458.7" width="50.5" height="150" fill="#000"/>
<path fill="#000" fill-rule="evenodd" d="M530 475.2H571.3V608H530ZM537 479.8H562.5V604.4H537Z"/>
<g filter="url(#vsoft)"><g clip-path="url(#c8)"><g filter="url(#mottle)"><path d="M457.0 358.6C461.4 357.7 467.4 357.2 472.0 357.8C476.6 358.4 480.8 360.1 484.5 362.0C488.2 363.9 491.3 366.6 494.0 369.5C496.7 372.4 498.6 375.4 500.5 379.5C502.4 383.6 504.8 389.4 505.2 393.9C505.6 398.4 504.7 402.6 503.0 406.5C501.3 410.4 498.4 414.5 495.1 417.2C491.8 419.9 488.6 421.5 483.4 422.6C478.2 423.7 469.8 423.8 464.0 423.6C458.2 423.4 452.7 422.8 448.5 421.6C444.3 420.4 441.5 418.7 438.8 416.2C436.1 413.7 433.9 410.1 432.5 406.5C431.1 402.9 430.4 398.6 430.2 394.9C430.0 391.2 430.2 388.2 431.4 384.3C432.6 380.4 434.8 375.1 437.2 371.6C439.6 368.1 442.2 365.4 445.5 363.2C448.8 361.0 452.6 359.5 457.0 358.6Z" fill="url(#g8)"/></g><path d="M442.0 374.0C444.0 371.6 448.0 368.2 452.0 366.5C456.0 364.8 461.7 363.8 466.0 363.5C470.3 363.2 474.8 363.8 478.0 365.0C481.2 366.2 483.8 368.0 485.5 370.5C487.2 373.0 487.6 376.8 488.0 380.0C488.4 383.2 487.9 387.0 487.6 390.0C487.3 393.0 487.8 396.8 486.0 398.0C484.2 399.2 479.8 397.5 477.0 397.5C474.2 397.5 472.0 397.2 469.5 398.0C467.0 398.8 465.1 401.7 462.0 402.5C458.9 403.3 454.1 403.6 451.0 403.0C447.9 402.4 445.3 401.2 443.5 399.0C441.7 396.8 440.6 393.0 440.0 390.0C439.4 387.0 439.9 383.7 440.2 381.0C440.5 378.3 440.0 376.4 442.0 374.0Z" fill="#c6b29e" filter="url(#b05)"/><path d="M442.0 378.0C443.8 374.3 449.0 370.7 452.0 370.0C455.0 369.3 458.0 371.7 460.0 374.0C462.0 376.3 463.0 380.7 464.0 384.0C465.0 387.3 467.0 391.3 466.0 394.0C465.0 396.7 461.0 399.0 458.0 400.0C455.0 401.0 450.8 401.3 448.0 400.0C445.2 398.7 442.0 395.7 441.0 392.0C440.0 388.3 440.2 381.7 442.0 378.0Z" fill="#b49c84" opacity="0.7" filter="url(#b1)"/><path d="M452.0 366.0C452.7 367.2 454.5 371.0 456.0 373.0C457.5 375.0 459.5 376.0 461.0 378.0C462.5 380.0 463.8 382.8 465.0 385.0C466.2 387.2 467.2 389.0 468.0 391.0C468.8 393.0 469.7 396.0 470.0 397.0" fill="none" stroke="#f07420" stroke-width="3.2" opacity="0.9" stroke-linecap="round" filter="url(#b05)"/><path d="M453 367C457 374 462 378 466 385C468 390 469 394 470 397" fill="none" stroke="#ffe6b8" stroke-width="1.5" stroke-dasharray="1.2 1.8" stroke-linecap="round" opacity="0.9" filter="url(#soft)"/><path d="M446.0 372.0C445.7 373.3 444.0 377.3 444.0 380.0C444.0 382.7 445.7 386.7 446.0 388.0" fill="none" stroke="#ec6a1c" stroke-width="2" opacity="0.6" stroke-linecap="round" filter="url(#b05)"/><path d="M446.0 396.0C447.0 396.8 449.3 400.2 452.0 401.0C454.7 401.8 459.0 401.8 462.0 401.0C465.0 400.2 467.0 397.0 470.0 396.0C473.0 395.0 477.3 395.0 480.0 395.0C482.7 395.0 485.0 395.8 486.0 396.0" fill="none" stroke="#e85c14" stroke-width="2.6" opacity="0.8" stroke-linecap="round" filter="url(#b05)"/><path d="M484.0 366.0C484.7 367.3 487.0 371.0 488.0 374.0C489.0 377.0 489.8 380.7 490.0 384.0C490.2 387.3 489.2 392.3 489.0 394.0" fill="none" stroke="#c83408" stroke-width="2" opacity="0.7" stroke-linecap="round" filter="url(#b05)"/><path d="M440.0 404.0C440.3 402.3 447.3 405.2 452.0 405.0C456.7 404.8 462.7 403.8 468.0 403.0C473.3 402.2 479.3 400.0 484.0 400.0C488.7 400.0 495.0 401.0 496.0 403.0C497.0 405.0 494.3 409.7 490.0 412.0C485.7 414.3 476.7 416.5 470.0 417.0C463.3 417.5 455.0 417.2 450.0 415.0C445.0 412.8 439.7 405.7 440.0 404.0Z" fill="#f4904c" opacity="0.6" filter="url(#b1)"/><path d="M444.0 409.0C446.3 409.5 453.0 411.8 458.0 412.0C463.0 412.2 468.3 411.3 474.0 410.0C479.7 408.7 489.0 405.0 492.0 404.0" fill="none" stroke="#fab070" stroke-width="1.8" opacity="0.6" stroke-linecap="round" filter="url(#b05)"/><path d="M490.0 372.0C490.7 370.0 495.2 375.0 497.0 378.0C498.8 381.0 500.5 386.0 501.0 390.0C501.5 394.0 501.2 399.7 500.0 402.0C498.8 404.3 495.2 406.0 494.0 404.0C492.8 402.0 493.7 395.3 493.0 390.0C492.3 384.7 489.3 374.0 490.0 372.0Z" fill="#ee7428" opacity="0.6" filter="url(#b1)"/><ellipse cx="502" cy="394" rx="3.4" ry="13" fill="url(#dk)" opacity="0.6"/><ellipse cx="434" cy="398" rx="4" ry="12" fill="url(#dk)" opacity="0.45"/><path d="M457.0 358.6C461.4 357.7 467.4 357.2 472.0 357.8C476.6 358.4 480.8 360.1 484.5 362.0C488.2 363.9 491.3 366.6 494.0 369.5C496.7 372.4 498.6 375.4 500.5 379.5C502.4 383.6 504.8 389.4 505.2 393.9C505.6 398.4 504.7 402.6 503.0 406.5C501.3 410.4 498.4 414.5 495.1 417.2C491.8 419.9 488.6 421.5 483.4 422.6C478.2 423.7 469.8 423.8 464.0 423.6C458.2 423.4 452.7 422.8 448.5 421.6C444.3 420.4 441.5 418.7 438.8 416.2C436.1 413.7 433.9 410.1 432.5 406.5C431.1 402.9 430.4 398.6 430.2 394.9C430.0 391.2 430.2 388.2 431.4 384.3C432.6 380.4 434.8 375.1 437.2 371.6C439.6 368.1 442.2 365.4 445.5 363.2C448.8 361.0 452.6 359.5 457.0 358.6Z" fill="none" stroke="#a82606" stroke-width="4" opacity="0.7" filter="url(#b1)"/></g><path d="M457.0 358.6C461.4 357.7 467.4 357.2 472.0 357.8C476.6 358.4 480.8 360.1 484.5 362.0C488.2 363.9 491.3 366.6 494.0 369.5C496.7 372.4 498.6 375.4 500.5 379.5C502.4 383.6 504.8 389.4 505.2 393.9C505.6 398.4 504.7 402.6 503.0 406.5C501.3 410.4 498.4 414.5 495.1 417.2C491.8 419.9 488.6 421.5 483.4 422.6C478.2 423.7 469.8 423.8 464.0 423.6C458.2 423.4 452.7 422.8 448.5 421.6C444.3 420.4 441.5 418.7 438.8 416.2C436.1 413.7 433.9 410.1 432.5 406.5C431.1 402.9 430.4 398.6 430.2 394.9C430.0 391.2 430.2 388.2 431.4 384.3C432.6 380.4 434.8 375.1 437.2 371.6C439.6 368.1 442.2 365.4 445.5 363.2C448.8 361.0 452.6 359.5 457.0 358.6Z" fill="none" stroke="#8a2206" stroke-width="1.0" stroke-opacity="0.75"/></g>
<g filter="url(#vsoft)"><g clip-path="url(#c11)"><g filter="url(#mottle)"><path d="M520.6 442.5C522.7 441.5 526.3 441.0 530.6 440.7C534.9 440.4 543.7 440.2 549.0 440.2C554.3 440.2 562.3 440.2 565.8 441.0C569.2 441.8 570.3 444.1 572.0 445.6C573.7 447.1 576.6 449.3 577.3 450.9C578.0 452.5 577.6 454.6 576.6 456.3C575.6 458.0 572.5 460.3 570.4 462.4C568.3 464.5 564.9 468.3 562.8 470.1C560.7 471.9 559.8 473.8 556.6 474.7C553.4 475.6 545.7 476.4 541.3 476.4C536.9 476.4 531.0 475.8 527.5 474.9C524.0 474.0 520.6 471.6 518.3 470.1C516.0 468.6 513.3 466.3 512.2 464.7C511.1 463.1 510.6 461.1 510.7 459.4C510.8 457.7 512.1 455.0 513.0 453.2C513.9 451.4 515.7 448.7 516.8 447.1C517.9 445.5 518.5 443.5 520.6 442.5Z" fill="url(#g11)"/></g><path d="M522 442.2C535 440.6 552 440.4 568 442" fill="none" stroke="#cc3e0c" stroke-width="1.3" opacity="0.85" filter="url(#soft)"/><path d="M516.0 449.5C518.7 449.2 526.0 448.2 532.0 448.0C538.0 447.8 545.2 447.8 552.0 448.0C558.8 448.2 569.5 449.2 573.0 449.5" fill="none" stroke="#e8681a" stroke-width="1.4" opacity="0.6" stroke-linecap="round" filter="url(#b05)"/><ellipse cx="527" cy="465" rx="4.5" ry="4.5" fill="#ffc848" opacity="0.9" filter="url(#b1)"/><ellipse cx="544" cy="463.5" rx="4" ry="4.5" fill="#ffc040" opacity="0.85" filter="url(#b1)"/><ellipse cx="551" cy="455" rx="4.5" ry="3.4" fill="#ffd060" opacity="0.85" filter="url(#b1)"/><ellipse cx="549" cy="448.6" rx="1.6" ry="2" fill="#fff4e0" opacity="0.9" filter="url(#soft)"/><path d="M530.0 456.0C531.3 454.0 537.0 451.7 540.0 452.0C543.0 452.3 547.7 455.7 548.0 458.0C548.3 460.3 544.7 465.0 542.0 466.0C539.3 467.0 534.0 465.7 532.0 464.0C530.0 462.3 528.7 458.0 530.0 456.0Z" fill="#f4922e" opacity="0.6" filter="url(#b1)"/><ellipse cx="572" cy="456" rx="4" ry="7" fill="#e45c12" opacity="0.5" filter="url(#b1)"/><path d="M520.6 442.5C522.7 441.5 526.3 441.0 530.6 440.7C534.9 440.4 543.7 440.2 549.0 440.2C554.3 440.2 562.3 440.2 565.8 441.0C569.2 441.8 570.3 444.1 572.0 445.6C573.7 447.1 576.6 449.3 577.3 450.9C578.0 452.5 577.6 454.6 576.6 456.3C575.6 458.0 572.5 460.3 570.4 462.4C568.3 464.5 564.9 468.3 562.8 470.1C560.7 471.9 559.8 473.8 556.6 474.7C553.4 475.6 545.7 476.4 541.3 476.4C536.9 476.4 531.0 475.8 527.5 474.9C524.0 474.0 520.6 471.6 518.3 470.1C516.0 468.6 513.3 466.3 512.2 464.7C511.1 463.1 510.6 461.1 510.7 459.4C510.8 457.7 512.1 455.0 513.0 453.2C513.9 451.4 515.7 448.7 516.8 447.1C517.9 445.5 518.5 443.5 520.6 442.5Z" fill="none" stroke="#a82606" stroke-width="3" opacity="0.3" filter="url(#b1)"/></g><path d="M520.6 442.5C522.7 441.5 526.3 441.0 530.6 440.7C534.9 440.4 543.7 440.2 549.0 440.2C554.3 440.2 562.3 440.2 565.8 441.0C569.2 441.8 570.3 444.1 572.0 445.6C573.7 447.1 576.6 449.3 577.3 450.9C578.0 452.5 577.6 454.6 576.6 456.3C575.6 458.0 572.5 460.3 570.4 462.4C568.3 464.5 564.9 468.3 562.8 470.1C560.7 471.9 559.8 473.8 556.6 474.7C553.4 475.6 545.7 476.4 541.3 476.4C536.9 476.4 531.0 475.8 527.5 474.9C524.0 474.0 520.6 471.6 518.3 470.1C516.0 468.6 513.3 466.3 512.2 464.7C511.1 463.1 510.6 461.1 510.7 459.4C510.8 457.7 512.1 455.0 513.0 453.2C513.9 451.4 515.7 448.7 516.8 447.1C517.9 445.5 518.5 443.5 520.6 442.5Z" fill="none" stroke="#a83a0a" stroke-width="0.9" stroke-opacity="0.75"/></g>
<g filter="url(#vsoft)"><g clip-path="url(#c5)"><g filter="url(#mottle)"><path d="M312.2 332.2C316.1 329.8 320.5 328.2 325.0 326.9C329.5 325.6 335.6 324.0 339.1 324.5C342.6 325.0 343.8 326.9 346.1 329.9C348.4 332.9 350.8 338.2 353.1 342.7C355.4 347.2 358.4 352.5 360.1 356.8C361.9 361.1 363.6 364.9 363.6 368.4C363.6 371.9 361.9 375.1 360.1 377.8C358.4 380.5 356.2 382.9 353.1 384.8C350.0 386.8 345.7 388.5 341.4 389.5C337.1 390.5 331.7 391.2 327.4 390.8C323.1 390.4 319.2 389.3 315.7 387.1C312.2 384.9 308.9 381.3 306.4 377.8C303.9 374.3 301.8 370.4 300.5 366.1C299.2 361.8 298.7 356.2 298.9 352.1C299.1 348.0 299.5 344.9 301.7 341.6C303.9 338.3 308.3 334.6 312.2 332.2Z" fill="url(#g5)"/></g><path d="M302.0 342.0C303.3 339.0 309.7 334.5 314.0 332.0C318.3 329.5 323.7 328.0 328.0 327.0C332.3 326.0 337.3 325.2 340.0 326.0C342.7 326.8 345.7 330.3 344.0 332.0C342.3 333.7 334.7 334.3 330.0 336.0C325.3 337.7 320.0 339.7 316.0 342.0C312.0 344.3 308.3 350.0 306.0 350.0C303.7 350.0 300.7 345.0 302.0 342.0Z" fill="#c43608" opacity="0.6" filter="url(#b1)"/><path d="M308.0 350.0C308.3 352.0 309.2 358.0 310.0 362.0C310.8 366.0 312.5 372.0 313.0 374.0" fill="none" stroke="#bf3206" stroke-width="2.2" opacity="0.5" stroke-linecap="round" filter="url(#b05)"/><path d="M318.0 344.0C318.3 346.3 319.3 353.3 320.0 358.0C320.7 362.7 321.7 369.7 322.0 372.0" fill="none" stroke="#c23406" stroke-width="2.2" opacity="0.5" stroke-linecap="round" filter="url(#b05)"/><path d="M329.0 340.0C329.3 342.3 330.3 349.3 331.0 354.0C331.7 358.7 332.7 365.7 333.0 368.0" fill="none" stroke="#bf3206" stroke-width="2.2" opacity="0.45" stroke-linecap="round" filter="url(#b05)"/><path d="M340.0 338.0C340.5 340.3 342.0 347.3 343.0 352.0C344.0 356.7 345.5 363.7 346.0 366.0" fill="none" stroke="#c23406" stroke-width="2.2" opacity="0.45" stroke-linecap="round" filter="url(#b05)"/><path d="M350.0 346.0C350.5 348.0 352.2 354.0 353.0 358.0C353.8 362.0 354.7 368.0 355.0 370.0" fill="none" stroke="#b83006" stroke-width="2" opacity="0.45" stroke-linecap="round" filter="url(#b05)"/><path d="M313.0 346.0C313.3 348.3 314.3 355.7 315.0 360.0C315.7 364.3 316.7 370.0 317.0 372.0" fill="none" stroke="#f07a30" stroke-width="1.8" opacity="0.5" stroke-linecap="round" filter="url(#b05)"/><path d="M335.0 338.0C335.3 340.3 336.2 347.3 337.0 352.0C337.8 356.7 339.5 363.7 340.0 366.0" fill="none" stroke="#f07a30" stroke-width="1.8" opacity="0.45" stroke-linecap="round" filter="url(#b05)"/><ellipse cx="332" cy="383" rx="15" ry="6.5" fill="url(#glow)"/><ellipse cx="327" cy="384.5" rx="7" ry="3.4" fill="#fff0a8" opacity="0.9" filter="url(#b1)"/><ellipse cx="339" cy="383" rx="5" ry="3" fill="#ffe890" opacity="0.8" filter="url(#b1)"/><ellipse cx="341" cy="333" rx="2" ry="1.4" fill="#ffd8a0" opacity="0.8" filter="url(#soft)"/><path d="M312.2 332.2C316.1 329.8 320.5 328.2 325.0 326.9C329.5 325.6 335.6 324.0 339.1 324.5C342.6 325.0 343.8 326.9 346.1 329.9C348.4 332.9 350.8 338.2 353.1 342.7C355.4 347.2 358.4 352.5 360.1 356.8C361.9 361.1 363.6 364.9 363.6 368.4C363.6 371.9 361.9 375.1 360.1 377.8C358.4 380.5 356.2 382.9 353.1 384.8C350.0 386.8 345.7 388.5 341.4 389.5C337.1 390.5 331.7 391.2 327.4 390.8C323.1 390.4 319.2 389.3 315.7 387.1C312.2 384.9 308.9 381.3 306.4 377.8C303.9 374.3 301.8 370.4 300.5 366.1C299.2 361.8 298.7 356.2 298.9 352.1C299.1 348.0 299.5 344.9 301.7 341.6C303.9 338.3 308.3 334.6 312.2 332.2Z" fill="none" stroke="#a82606" stroke-width="4" opacity="0.7" filter="url(#b1)"/></g><path d="M312.2 332.2C316.1 329.8 320.5 328.2 325.0 326.9C329.5 325.6 335.6 324.0 339.1 324.5C342.6 325.0 343.8 326.9 346.1 329.9C348.4 332.9 350.8 338.2 353.1 342.7C355.4 347.2 358.4 352.5 360.1 356.8C361.9 361.1 363.6 364.9 363.6 368.4C363.6 371.9 361.9 375.1 360.1 377.8C358.4 380.5 356.2 382.9 353.1 384.8C350.0 386.8 345.7 388.5 341.4 389.5C337.1 390.5 331.7 391.2 327.4 390.8C323.1 390.4 319.2 389.3 315.7 387.1C312.2 384.9 308.9 381.3 306.4 377.8C303.9 374.3 301.8 370.4 300.5 366.1C299.2 361.8 298.7 356.2 298.9 352.1C299.1 348.0 299.5 344.9 301.7 341.6C303.9 338.3 308.3 334.6 312.2 332.2Z" fill="none" stroke="#8a2206" stroke-width="1.0" stroke-opacity="0.75"/></g>
<g filter="url(#vsoft)"><g clip-path="url(#c6)"><g filter="url(#streak)"><path d="M360.1 292.5C364.8 290.2 372.2 286.4 378.8 284.8C385.4 283.2 394.2 282.5 399.8 283.0C405.4 283.5 408.5 284.9 412.6 287.8C416.7 290.8 420.4 296.2 424.3 300.7C428.2 305.2 433.1 310.6 436.0 314.7C438.9 318.8 440.8 320.9 441.4 325.2C442.0 329.5 441.0 335.5 439.5 340.4C438.0 345.3 435.6 349.9 432.5 354.4C429.4 358.9 425.1 364.1 420.8 367.3C416.5 370.5 412.2 372.1 406.8 373.3C401.4 374.5 393.8 375.0 388.1 374.6C382.5 374.2 376.8 373.0 372.9 370.8C369.0 368.6 367.6 366.1 364.7 361.4C361.8 356.7 358.1 348.9 355.4 342.7C352.7 336.5 349.9 329.9 348.4 324.1C346.9 318.3 346.1 312.0 346.5 307.7C346.9 303.4 348.4 300.9 350.7 298.4C353.0 295.9 355.4 294.8 360.1 292.5Z" fill="url(#g6)"/></g><ellipse cx="381" cy="302" rx="35" ry="17.5" transform="rotate(-15 381 302)" fill="url(#g6i)" filter="url(#b1)"/><path d="M360.0 296.0C360.2 297.7 360.3 303.0 361.0 306.0C361.7 309.0 363.5 312.7 364.0 314.0" fill="none" stroke="#e87414" stroke-width="2" opacity="0.6" stroke-linecap="round" filter="url(#b05)"/><path d="M370.0 291.0C370.2 293.0 370.3 298.8 371.0 303.0C371.7 307.2 373.5 313.8 374.0 316.0" fill="none" stroke="#e87414" stroke-width="2" opacity="0.55" stroke-linecap="round" filter="url(#b05)"/><path d="M381.0 288.0C381.2 290.0 381.3 295.7 382.0 300.0C382.7 304.3 384.5 311.7 385.0 314.0" fill="none" stroke="#e66a12" stroke-width="2" opacity="0.5" stroke-linecap="round" filter="url(#b05)"/><path d="M392.0 286.0C392.2 288.0 392.3 294.0 393.0 298.0C393.7 302.0 395.5 308.0 396.0 310.0" fill="none" stroke="#e2600e" stroke-width="2" opacity="0.5" stroke-linecap="round" filter="url(#b05)"/><path d="M402.0 286.0C402.2 287.7 402.3 293.0 403.0 296.0C403.7 299.0 405.5 302.7 406.0 304.0" fill="none" stroke="#de580c" stroke-width="2" opacity="0.5" stroke-linecap="round" filter="url(#b05)"/><ellipse cx="362" cy="304" rx="10" ry="8" fill="#ffdc5a" transform="rotate(-15 362 304)" opacity="0.8" filter="url(#b2)"/><ellipse cx="381.3" cy="302.6" rx="35.2" ry="18" transform="rotate(-15 381.3 302.6)" fill="none" stroke="#d03a08" stroke-width="2.2" filter="url(#b05)"/><ellipse cx="397" cy="356" rx="27" ry="16" fill="url(#glow2)" transform="rotate(-5 397 356)"/><ellipse cx="390" cy="363" rx="10" ry="5.5" fill="#fff2a0" opacity="0.85" filter="url(#b2)"/><ellipse cx="407" cy="358" rx="6" ry="4" fill="#ffe070" opacity="0.8" filter="url(#b1)"/><ellipse cx="380" cy="360" rx="5" ry="4" fill="#ffd050" opacity="0.7" filter="url(#b1)"/><path d="M349 318C356 330 372 336 390 333C410 329 424 316 428 300" fill="none" stroke="#cc3808" stroke-width="2.4" opacity="0.55" filter="url(#b1)"/><path d="M352.0 330.0C353.0 332.7 355.7 341.0 358.0 346.0C360.3 351.0 364.7 357.7 366.0 360.0" fill="none" stroke="#f08a30" stroke-width="2.4" opacity="0.45" stroke-linecap="round" filter="url(#b05)"/><path d="M420.0 318.0C420.7 320.3 423.3 327.3 424.0 332.0C424.7 336.7 424.0 343.7 424.0 346.0" fill="none" stroke="#d04008" stroke-width="2.6" opacity="0.45" stroke-linecap="round" filter="url(#b05)"/><path d="M410.0 322.0C410.5 324.3 412.5 331.7 413.0 336.0C413.5 340.3 413.0 346.0 413.0 348.0" fill="none" stroke="#f0802a" stroke-width="2.2" opacity="0.4" stroke-linecap="round" filter="url(#b05)"/><path d="M430.0 318.0C430.5 320.3 432.7 327.3 433.0 332.0C433.3 336.7 432.2 343.7 432.0 346.0" fill="none" stroke="#cc3c08" stroke-width="2.6" opacity="0.45" stroke-linecap="round" filter="url(#b05)"/><ellipse cx="433" cy="336" rx="7" ry="22" fill="url(#dk)" transform="rotate(-15 433 336)" opacity="0.5"/><path d="M360.1 292.5C364.8 290.2 372.2 286.4 378.8 284.8C385.4 283.2 394.2 282.5 399.8 283.0C405.4 283.5 408.5 284.9 412.6 287.8C416.7 290.8 420.4 296.2 424.3 300.7C428.2 305.2 433.1 310.6 436.0 314.7C438.9 318.8 440.8 320.9 441.4 325.2C442.0 329.5 441.0 335.5 439.5 340.4C438.0 345.3 435.6 349.9 432.5 354.4C429.4 358.9 425.1 364.1 420.8 367.3C416.5 370.5 412.2 372.1 406.8 373.3C401.4 374.5 393.8 375.0 388.1 374.6C382.5 374.2 376.8 373.0 372.9 370.8C369.0 368.6 367.6 366.1 364.7 361.4C361.8 356.7 358.1 348.9 355.4 342.7C352.7 336.5 349.9 329.9 348.4 324.1C346.9 318.3 346.1 312.0 346.5 307.7C346.9 303.4 348.4 300.9 350.7 298.4C353.0 295.9 355.4 294.8 360.1 292.5Z" fill="none" stroke="#a82606" stroke-width="4" opacity="0.5" filter="url(#b1)"/></g><path d="M360.1 292.5C364.8 290.2 372.2 286.4 378.8 284.8C385.4 283.2 394.2 282.5 399.8 283.0C405.4 283.5 408.5 284.9 412.6 287.8C416.7 290.8 420.4 296.2 424.3 300.7C428.2 305.2 433.1 310.6 436.0 314.7C438.9 318.8 440.8 320.9 441.4 325.2C442.0 329.5 441.0 335.5 439.5 340.4C438.0 345.3 435.6 349.9 432.5 354.4C429.4 358.9 425.1 364.1 420.8 367.3C416.5 370.5 412.2 372.1 406.8 373.3C401.4 374.5 393.8 375.0 388.1 374.6C382.5 374.2 376.8 373.0 372.9 370.8C369.0 368.6 367.6 366.1 364.7 361.4C361.8 356.7 358.1 348.9 355.4 342.7C352.7 336.5 349.9 329.9 348.4 324.1C346.9 318.3 346.1 312.0 346.5 307.7C346.9 303.4 348.4 300.9 350.7 298.4C353.0 295.9 355.4 294.8 360.1 292.5Z" fill="none" stroke="#a82c06" stroke-width="1.0" stroke-opacity="0.75"/></g>
<path fill="#000" d="M271.1 458.2H340V475.2H370.9V608H271.1Z"/>
<g filter="url(#vsoft)"><g clip-path="url(#c4)"><g filter="url(#streak)"><path d="M295.0 395.6C297.6 394.7 302.1 393.9 305.9 393.9C309.6 393.9 314.6 394.0 317.5 395.6C320.4 397.2 321.1 400.5 323.5 403.5C325.9 406.5 329.9 410.4 331.7 413.8C333.5 417.2 334.3 419.6 334.4 424.0C334.4 428.4 333.8 434.9 332.0 440.0C330.2 445.1 326.6 451.7 323.7 454.7C320.8 457.7 318.6 457.1 314.8 457.8C311.0 458.5 305.1 458.8 300.6 458.6C296.2 458.4 291.2 458.2 288.1 456.6C285.0 455.1 283.4 452.3 281.9 449.3C280.4 446.3 279.1 443.2 279.2 438.7C279.3 434.1 281.3 426.9 282.5 422.0C283.7 417.1 285.2 412.8 286.5 409.0C287.8 405.2 289.1 401.6 290.5 399.4C291.9 397.2 292.4 396.5 295.0 395.6Z" fill="url(#g4)"/></g><path d="M286.0 404.0C287.7 399.7 292.0 399.0 296.0 398.0C300.0 397.0 306.0 396.7 310.0 398.0C314.0 399.3 317.3 402.7 320.0 406.0C322.7 409.3 326.3 414.7 326.0 418.0C325.7 421.3 322.3 424.3 318.0 426.0C313.7 427.7 305.3 428.3 300.0 428.0C294.7 427.7 288.3 428.0 286.0 424.0C283.7 420.0 284.3 408.3 286.0 404.0Z" fill="#b22c08" opacity="0.5" filter="url(#b1)"/><path d="M292.0 401.0C291.7 402.8 290.5 408.2 290.0 412.0C289.5 415.8 289.2 422.0 289.0 424.0" fill="none" stroke="#e88a5c" stroke-width="2.2" opacity="0.38" stroke-linecap="round" filter="url(#b05)"/><path d="M297.0 399.0C296.8 400.8 296.2 406.2 296.0 410.0C295.8 413.8 296.0 420.0 296.0 422.0" fill="none" stroke="#e88a5c" stroke-width="2.2" opacity="0.38" stroke-linecap="round" filter="url(#b05)"/><path d="M303.0 400.0C303.0 402.0 302.8 408.0 303.0 412.0C303.2 416.0 303.8 422.0 304.0 424.0" fill="none" stroke="#ea9060" stroke-width="2.2" opacity="0.38" stroke-linecap="round" filter="url(#b05)"/><path d="M310.0 402.0C310.2 403.8 310.5 409.3 311.0 413.0C311.5 416.7 312.7 422.2 313.0 424.0" fill="none" stroke="#e88a5c" stroke-width="2.2" opacity="0.38" stroke-linecap="round" filter="url(#b05)"/><path d="M316.0 404.0C316.5 405.7 318.0 410.7 319.0 414.0C320.0 417.3 321.5 422.3 322.0 424.0" fill="none" stroke="#e07c50" stroke-width="2.2" opacity="0.38" stroke-linecap="round" filter="url(#b05)"/><ellipse cx="300.5" cy="444" rx="3.4" ry="5" fill="#ffd24a" transform="rotate(10 300.5 444)" opacity="0.95" filter="url(#b1)"/><ellipse cx="296" cy="450" rx="5" ry="3" fill="#f8a030" opacity="0.8" filter="url(#b1)"/><ellipse cx="307" cy="450" rx="6" ry="4" fill="#f28a26" opacity="0.6" filter="url(#b1)"/><ellipse cx="301" cy="443" rx="1.6" ry="2.4" fill="#fff2a0" opacity="0.9" filter="url(#soft)"/><path d="M281.0 430.0C281.8 427.3 284.5 426.3 286.0 428.0C287.5 429.7 289.0 436.0 290.0 440.0C291.0 444.0 292.7 450.0 292.0 452.0C291.3 454.0 287.8 453.3 286.0 452.0C284.2 450.7 281.8 447.7 281.0 444.0C280.2 440.3 280.2 432.7 281.0 430.0Z" fill="#f07a30" opacity="0.45" filter="url(#b1)"/><path d="M322.0 430.0C323.7 427.3 330.2 424.3 332.0 426.0C333.8 427.7 334.0 435.7 333.0 440.0C332.0 444.3 328.5 449.7 326.0 452.0C323.5 454.3 318.7 455.7 318.0 454.0C317.3 452.3 321.3 446.0 322.0 442.0C322.7 438.0 320.3 432.7 322.0 430.0Z" fill="#b83008" opacity="0.45" filter="url(#b1)"/><path d="M295.0 395.6C297.6 394.7 302.1 393.9 305.9 393.9C309.6 393.9 314.6 394.0 317.5 395.6C320.4 397.2 321.1 400.5 323.5 403.5C325.9 406.5 329.9 410.4 331.7 413.8C333.5 417.2 334.3 419.6 334.4 424.0C334.4 428.4 333.8 434.9 332.0 440.0C330.2 445.1 326.6 451.7 323.7 454.7C320.8 457.7 318.6 457.1 314.8 457.8C311.0 458.5 305.1 458.8 300.6 458.6C296.2 458.4 291.2 458.2 288.1 456.6C285.0 455.1 283.4 452.3 281.9 449.3C280.4 446.3 279.1 443.2 279.2 438.7C279.3 434.1 281.3 426.9 282.5 422.0C283.7 417.1 285.2 412.8 286.5 409.0C287.8 405.2 289.1 401.6 290.5 399.4C291.9 397.2 292.4 396.5 295.0 395.6Z" fill="none" stroke="#a82606" stroke-width="4" opacity="0.7" filter="url(#b1)"/></g><path d="M295.0 395.6C297.6 394.7 302.1 393.9 305.9 393.9C309.6 393.9 314.6 394.0 317.5 395.6C320.4 397.2 321.1 400.5 323.5 403.5C325.9 406.5 329.9 410.4 331.7 413.8C333.5 417.2 334.3 419.6 334.4 424.0C334.4 428.4 333.8 434.9 332.0 440.0C330.2 445.1 326.6 451.7 323.7 454.7C320.8 457.7 318.6 457.1 314.8 457.8C311.0 458.5 305.1 458.8 300.6 458.6C296.2 458.4 291.2 458.2 288.1 456.6C285.0 455.1 283.4 452.3 281.9 449.3C280.4 446.3 279.1 443.2 279.2 438.7C279.3 434.1 281.3 426.9 282.5 422.0C283.7 417.1 285.2 412.8 286.5 409.0C287.8 405.2 289.1 401.6 290.5 399.4C291.9 397.2 292.4 396.5 295.0 395.6Z" fill="none" stroke="#7e2006" stroke-width="1.0" stroke-opacity="0.75"/></g>
<g filter="url(#vsoft)"><g clip-path="url(#c7)"><g filter="url(#streak)"><path d="M316.6 424.4C318.0 423.2 324.0 423.1 327.2 422.7C330.4 422.3 336.0 421.6 339.7 421.2C343.4 420.8 349.9 420.2 353.9 419.5C357.9 418.8 365.5 416.4 368.1 416.2C370.7 416.0 372.1 415.8 372.6 418.2C373.1 420.6 372.1 429.2 371.7 433.3C371.3 437.4 370.9 443.9 369.9 447.6C368.9 451.3 366.4 457.0 364.6 460.0C362.9 463.0 359.6 466.9 357.4 468.9C355.2 470.9 351.3 473.8 348.6 474.6C345.9 475.4 340.4 475.7 337.9 474.6C335.4 473.6 332.8 469.9 330.8 467.1C328.8 464.3 325.3 458.2 323.7 454.7C322.1 451.2 320.2 445.4 319.2 442.2C318.2 439.0 317.3 434.1 316.9 431.6C316.5 429.1 315.2 425.6 316.6 424.4Z" fill="url(#g7)"/></g><path d="M333 414H374V431H333Z" fill="url(#g7r)" opacity="0.95"/><path d="M338.0 428.0C337.8 430.0 336.8 436.0 337.0 440.0C337.2 444.0 338.7 450.0 339.0 452.0" fill="none" stroke="#fbd090" stroke-width="2" opacity="0.5" stroke-linecap="round" filter="url(#b05)"/><path d="M346.0 427.0C346.0 429.2 345.7 435.8 346.0 440.0C346.3 444.2 347.7 450.0 348.0 452.0" fill="none" stroke="#e0480a" stroke-width="2" opacity="0.6" stroke-linecap="round" filter="url(#b05)"/><path d="M354.0 425.0C354.2 427.2 354.7 433.8 355.0 438.0C355.3 442.2 355.8 448.0 356.0 450.0" fill="none" stroke="#d8400a" stroke-width="2" opacity="0.6" stroke-linecap="round" filter="url(#b05)"/><path d="M362.0 424.0C362.2 426.0 363.0 432.0 363.0 436.0C363.0 440.0 362.2 446.0 362.0 448.0" fill="none" stroke="#f8924a" stroke-width="1.8" opacity="0.5" stroke-linecap="round" filter="url(#b05)"/><ellipse cx="345.5" cy="463" rx="13.5" ry="11" fill="url(#glow)"/><ellipse cx="343" cy="467" rx="6" ry="4.5" fill="#f4f29a" opacity="0.9" filter="url(#b1)"/><ellipse cx="350" cy="462" rx="4" ry="3.4" fill="#fff6c0" opacity="0.85" filter="url(#b1)"/><path d="M366.0 424.0C366.8 420.7 371.0 417.3 372.0 420.0C373.0 422.7 372.7 434.7 372.0 440.0C371.3 445.3 369.3 449.0 368.0 452.0C366.7 455.0 364.2 460.0 364.0 458.0C363.8 456.0 366.7 445.7 367.0 440.0C367.3 434.3 365.2 427.3 366.0 424.0Z" fill="#d84208" opacity="0.5" filter="url(#b1)"/><path d="M316.6 424.4C318.0 423.2 324.0 423.1 327.2 422.7C330.4 422.3 336.0 421.6 339.7 421.2C343.4 420.8 349.9 420.2 353.9 419.5C357.9 418.8 365.5 416.4 368.1 416.2C370.7 416.0 372.1 415.8 372.6 418.2C373.1 420.6 372.1 429.2 371.7 433.3C371.3 437.4 370.9 443.9 369.9 447.6C368.9 451.3 366.4 457.0 364.6 460.0C362.9 463.0 359.6 466.9 357.4 468.9C355.2 470.9 351.3 473.8 348.6 474.6C345.9 475.4 340.4 475.7 337.9 474.6C335.4 473.6 332.8 469.9 330.8 467.1C328.8 464.3 325.3 458.2 323.7 454.7C322.1 451.2 320.2 445.4 319.2 442.2C318.2 439.0 317.3 434.1 316.9 431.6C316.5 429.1 315.2 425.6 316.6 424.4Z" fill="none" stroke="#a82606" stroke-width="3" opacity="0.35" filter="url(#b1)"/></g><path d="M316.6 424.4C318.0 423.2 324.0 423.1 327.2 422.7C330.4 422.3 336.0 421.6 339.7 421.2C343.4 420.8 349.9 420.2 353.9 419.5C357.9 418.8 365.5 416.4 368.1 416.2C370.7 416.0 372.1 415.8 372.6 418.2C373.1 420.6 372.1 429.2 371.7 433.3C371.3 437.4 370.9 443.9 369.9 447.6C368.9 451.3 366.4 457.0 364.6 460.0C362.9 463.0 359.6 466.9 357.4 468.9C355.2 470.9 351.3 473.8 348.6 474.6C345.9 475.4 340.4 475.7 337.9 474.6C335.4 473.6 332.8 469.9 330.8 467.1C328.8 464.3 325.3 458.2 323.7 454.7C322.1 451.2 320.2 445.4 319.2 442.2C318.2 439.0 317.3 434.1 316.9 431.6C316.5 429.1 315.2 425.6 316.6 424.4Z" fill="none" stroke="#b43408" stroke-width="0.8" stroke-opacity="0.75"/></g>
<rect x="178.6" y="475.3" width="50" height="133" fill="#000"/>
<path fill="#000" fill-rule="evenodd" d="M112.3 458.5H162.9V608H112.3ZM120.4 462.6H154.3V604.5H120.4Z"/>
<g filter="url(#vsoft)"><g clip-path="url(#c3)"><g filter="url(#mottle)"><path d="M211.5 364.2C214.6 363.4 219.2 362.9 223.4 362.9C227.6 362.9 232.8 363.1 236.5 364.2C240.2 365.3 243.2 367.1 245.7 369.5C248.2 371.9 249.4 375.2 251.6 378.7C253.8 382.2 257.2 387.2 258.8 390.5C260.4 393.8 261.7 395.8 261.5 398.4C261.3 401.0 259.7 403.6 257.5 406.2C255.3 408.8 251.1 411.6 248.3 414.1C245.5 416.6 243.2 419.1 240.5 421.0C237.8 422.9 236.1 424.6 232.0 425.3C227.9 426.0 220.3 425.6 216.0 425.0C211.7 424.4 209.3 423.2 206.0 421.5C202.7 419.8 198.6 416.8 196.0 414.5C193.4 412.2 191.1 410.1 190.4 407.6C189.7 405.1 190.9 402.3 191.8 399.7C192.7 397.1 195.0 394.9 195.8 391.8C196.6 388.7 195.8 384.4 196.4 381.3C197.1 378.2 198.3 375.7 199.7 373.4C201.1 371.1 203.0 369.0 205.0 367.5C207.0 366.0 208.4 365.0 211.5 364.2Z" fill="url(#g3)"/></g><path d="M226.0 374.0C228.0 372.2 232.5 370.7 236.0 371.0C239.5 371.3 244.8 373.5 247.0 376.0C249.2 378.5 250.2 383.7 249.0 386.0C247.8 388.3 243.2 389.7 240.0 390.0C236.8 390.3 232.7 389.3 230.0 388.0C227.3 386.7 224.7 384.3 224.0 382.0C223.3 379.7 224.0 375.8 226.0 374.0Z" fill="#fcc450" opacity="0.95" filter="url(#b1)"/><path d="M203.0 372.0C204.0 369.3 210.5 367.2 214.0 367.0C217.5 366.8 223.0 368.8 224.0 371.0C225.0 373.2 222.7 378.0 220.0 380.0C217.3 382.0 210.8 384.3 208.0 383.0C205.2 381.7 202.0 374.7 203.0 372.0Z" fill="#f6a038" opacity="0.8" filter="url(#b1)"/><path d="M210.0 384.0C212.3 382.3 219.0 380.2 222.0 381.0C225.0 381.8 228.7 386.8 228.0 389.0C227.3 391.2 221.3 393.7 218.0 394.0C214.7 394.3 209.3 392.7 208.0 391.0C206.7 389.3 207.7 385.7 210.0 384.0Z" fill="#f8ac40" opacity="0.8" filter="url(#b1)"/><path d="M198.0 398.0C200.5 395.7 209.3 395.2 215.0 395.0C220.7 394.8 226.8 397.0 232.0 397.0C237.2 397.0 242.3 394.3 246.0 395.0C249.7 395.7 254.0 398.2 254.0 401.0C254.0 403.8 249.7 409.3 246.0 412.0C242.3 414.7 237.3 416.5 232.0 417.0C226.7 417.5 219.3 416.3 214.0 415.0C208.7 413.7 202.7 411.8 200.0 409.0C197.3 406.2 195.5 400.3 198.0 398.0Z" fill="#c42c08" opacity="0.6" filter="url(#b1)"/><path d="M195.0 402.0C195.8 399.3 201.2 398.7 204.0 400.0C206.8 401.3 209.0 406.5 212.0 410.0C215.0 413.5 222.3 419.0 222.0 421.0C221.7 423.0 213.8 422.8 210.0 422.0C206.2 421.2 201.5 419.3 199.0 416.0C196.5 412.7 194.2 404.7 195.0 402.0Z" fill="#f6a468" opacity="0.85" filter="url(#b1)"/><path d="M205.0 399.0C205.7 399.8 207.5 402.5 209.0 404.0C210.5 405.5 213.2 407.3 214.0 408.0" fill="none" stroke="#f6965a" stroke-width="1.8" opacity="0.8" stroke-linecap="round" filter="url(#b05)"/><path d="M222.0 398.0C222.7 399.0 224.5 402.2 226.0 404.0C227.5 405.8 229.7 407.3 231.0 409.0C232.3 410.7 233.5 413.2 234.0 414.0" fill="none" stroke="#f6965a" stroke-width="1.8" opacity="0.8" stroke-linecap="round" filter="url(#b05)"/><path d="M236.0 399.0C236.5 400.0 238.7 402.8 239.0 405.0C239.3 407.2 238.2 410.8 238.0 412.0" fill="none" stroke="#f6965a" stroke-width="1.6" opacity="0.8" stroke-linecap="round" filter="url(#b05)"/><path d="M214.0 398.0C214.7 399.2 216.3 402.8 218.0 405.0C219.7 407.2 223.0 410.0 224.0 411.0" fill="none" stroke="#a82006" stroke-width="2" opacity="0.6" stroke-linecap="round" filter="url(#b05)"/><path d="M229.0 397.0C229.7 398.0 231.8 400.8 233.0 403.0C234.2 405.2 235.5 408.8 236.0 410.0" fill="none" stroke="#a82006" stroke-width="2" opacity="0.6" stroke-linecap="round" filter="url(#b05)"/><path d="M243.0 398.0C243.2 399.2 244.2 402.8 244.0 405.0C243.8 407.2 242.3 410.0 242.0 411.0" fill="none" stroke="#a82006" stroke-width="1.8" opacity="0.55" stroke-linecap="round" filter="url(#b05)"/><path d="M227.0 378.0C227.7 378.7 229.5 381.7 231.0 382.0C232.5 382.3 234.5 379.7 236.0 380.0C237.5 380.3 238.7 384.0 240.0 384.0C241.3 384.0 243.3 380.7 244.0 380.0" fill="none" stroke="#ffe48a" stroke-width="1.5" opacity="0.9" stroke-linecap="round" filter="url(#b05)"/><ellipse cx="216" cy="372" rx="2" ry="1.4" fill="#fff0c0" opacity="0.8" filter="url(#soft)"/><ellipse cx="238" cy="376" rx="2.4" ry="1.6" fill="#fff4c8" opacity="0.85" filter="url(#soft)"/><path d="M250.0 384.0C251.3 383.0 256.3 389.5 258.0 392.0C259.7 394.5 260.5 396.7 260.0 399.0C259.5 401.3 256.7 406.2 255.0 406.0C253.3 405.8 250.8 401.7 250.0 398.0C249.2 394.3 248.7 385.0 250.0 384.0Z" fill="#b02806" opacity="0.6" filter="url(#b1)"/><path d="M211.5 364.2C214.6 363.4 219.2 362.9 223.4 362.9C227.6 362.9 232.8 363.1 236.5 364.2C240.2 365.3 243.2 367.1 245.7 369.5C248.2 371.9 249.4 375.2 251.6 378.7C253.8 382.2 257.2 387.2 258.8 390.5C260.4 393.8 261.7 395.8 261.5 398.4C261.3 401.0 259.7 403.6 257.5 406.2C255.3 408.8 251.1 411.6 248.3 414.1C245.5 416.6 243.2 419.1 240.5 421.0C237.8 422.9 236.1 424.6 232.0 425.3C227.9 426.0 220.3 425.6 216.0 425.0C211.7 424.4 209.3 423.2 206.0 421.5C202.7 419.8 198.6 416.8 196.0 414.5C193.4 412.2 191.1 410.1 190.4 407.6C189.7 405.1 190.9 402.3 191.8 399.7C192.7 397.1 195.0 394.9 195.8 391.8C196.6 388.7 195.8 384.4 196.4 381.3C197.1 378.2 198.3 375.7 199.7 373.4C201.1 371.1 203.0 369.0 205.0 367.5C207.0 366.0 208.4 365.0 211.5 364.2Z" fill="none" stroke="#a82606" stroke-width="4" opacity="0.55" filter="url(#b1)"/></g><path d="M211.5 364.2C214.6 363.4 219.2 362.9 223.4 362.9C227.6 362.9 232.8 363.1 236.5 364.2C240.2 365.3 243.2 367.1 245.7 369.5C248.2 371.9 249.4 375.2 251.6 378.7C253.8 382.2 257.2 387.2 258.8 390.5C260.4 393.8 261.7 395.8 261.5 398.4C261.3 401.0 259.7 403.6 257.5 406.2C255.3 408.8 251.1 411.6 248.3 414.1C245.5 416.6 243.2 419.1 240.5 421.0C237.8 422.9 236.1 424.6 232.0 425.3C227.9 426.0 220.3 425.6 216.0 425.0C211.7 424.4 209.3 423.2 206.0 421.5C202.7 419.8 198.6 416.8 196.0 414.5C193.4 412.2 191.1 410.1 190.4 407.6C189.7 405.1 190.9 402.3 191.8 399.7C192.7 397.1 195.0 394.9 195.8 391.8C196.6 388.7 195.8 384.4 196.4 381.3C197.1 378.2 198.3 375.7 199.7 373.4C201.1 371.1 203.0 369.0 205.0 367.5C207.0 366.0 208.4 365.0 211.5 364.2Z" fill="none" stroke="#8a2206" stroke-width="1.0" stroke-opacity="0.75"/></g>
<g filter="url(#vsoft)"><g clip-path="url(#c2)"><g filter="url(#streak)"><path d="M175.0 428.9C178.8 427.5 187.0 427.6 195.3 427.5C203.6 427.4 219.3 427.4 225.0 428.3C230.7 429.2 227.9 430.1 229.4 432.7C230.9 435.3 233.7 440.3 234.2 443.8C234.7 447.3 233.7 450.5 232.4 453.9C231.1 457.3 228.7 460.9 226.5 464.0C224.3 467.1 223.4 470.8 219.5 472.6C215.6 474.4 208.4 475.1 203.3 475.0C198.2 474.9 193.2 474.3 189.2 471.8C185.2 469.3 181.8 464.0 179.1 460.0C176.4 456.0 174.2 451.9 173.2 447.8C172.1 443.8 172.5 438.9 172.8 435.7C173.1 432.5 171.2 430.3 175.0 428.9Z" fill="url(#g2)"/></g><path d="M181.0 432.0C181.0 434.0 180.5 440.3 181.0 444.0C181.5 447.7 183.5 452.3 184.0 454.0" fill="none" stroke="#b42e06" stroke-width="2.4" opacity="0.55" stroke-linecap="round" filter="url(#b05)"/><path d="M189.0 431.0C189.0 433.2 188.7 440.0 189.0 444.0C189.3 448.0 190.7 453.2 191.0 455.0" fill="none" stroke="#b83006" stroke-width="2.2" opacity="0.5" stroke-linecap="round" filter="url(#b05)"/><path d="M198.0 431.0C198.0 433.0 197.8 439.5 198.0 443.0C198.2 446.5 198.8 450.5 199.0 452.0" fill="none" stroke="#b83006" stroke-width="2.2" opacity="0.5" stroke-linecap="round" filter="url(#b05)"/><path d="M207.0 431.0C207.0 432.8 207.0 438.8 207.0 442.0C207.0 445.2 207.0 448.7 207.0 450.0" fill="none" stroke="#b83006" stroke-width="2.2" opacity="0.5" stroke-linecap="round" filter="url(#b05)"/><path d="M216.0 431.0C216.0 432.8 216.2 438.5 216.0 442.0C215.8 445.5 215.2 450.3 215.0 452.0" fill="none" stroke="#b83006" stroke-width="2.2" opacity="0.5" stroke-linecap="round" filter="url(#b05)"/><path d="M224.0 432.0C224.2 433.8 225.2 439.5 225.0 443.0C224.8 446.5 223.3 451.3 223.0 453.0" fill="none" stroke="#b42e06" stroke-width="2.4" opacity="0.55" stroke-linecap="round" filter="url(#b05)"/><path d="M185.0 433.0C185.0 434.8 184.7 440.8 185.0 444.0C185.3 447.2 186.7 450.7 187.0 452.0" fill="none" stroke="#f08038" stroke-width="1.8" opacity="0.5" stroke-linecap="round" filter="url(#b05)"/><path d="M203.0 432.0C203.0 433.5 203.0 439.5 203.0 441.0" fill="none" stroke="#f08038" stroke-width="1.8" opacity="0.5" stroke-linecap="round" filter="url(#b05)"/><path d="M212.0 432.0C212.0 433.7 212.0 440.3 212.0 442.0" fill="none" stroke="#f08038" stroke-width="1.8" opacity="0.5" stroke-linecap="round" filter="url(#b05)"/><ellipse cx="206" cy="464" rx="17" ry="10.5" fill="url(#glow)" transform="rotate(-6 206 464)"/><ellipse cx="201" cy="467" rx="9" ry="5" fill="#fff2a0" opacity="0.9" filter="url(#b1)"/><ellipse cx="213" cy="463" rx="6" ry="4" fill="#ffe070" opacity="0.85" filter="url(#b1)"/><ellipse cx="176.5" cy="446" rx="4" ry="14" fill="url(#dk)" opacity="0.6"/><ellipse cx="230.5" cy="446" rx="4" ry="13" fill="url(#dk)" opacity="0.6"/><path d="M175.0 428.9C178.8 427.5 187.0 427.6 195.3 427.5C203.6 427.4 219.3 427.4 225.0 428.3C230.7 429.2 227.9 430.1 229.4 432.7C230.9 435.3 233.7 440.3 234.2 443.8C234.7 447.3 233.7 450.5 232.4 453.9C231.1 457.3 228.7 460.9 226.5 464.0C224.3 467.1 223.4 470.8 219.5 472.6C215.6 474.4 208.4 475.1 203.3 475.0C198.2 474.9 193.2 474.3 189.2 471.8C185.2 469.3 181.8 464.0 179.1 460.0C176.4 456.0 174.2 451.9 173.2 447.8C172.1 443.8 172.5 438.9 172.8 435.7C173.1 432.5 171.2 430.3 175.0 428.9Z" fill="none" stroke="#a82606" stroke-width="4" opacity="0.7" filter="url(#b1)"/></g><path d="M175.0 428.9C178.8 427.5 187.0 427.6 195.3 427.5C203.6 427.4 219.3 427.4 225.0 428.3C230.7 429.2 227.9 430.1 229.4 432.7C230.9 435.3 233.7 440.3 234.2 443.8C234.7 447.3 233.7 450.5 232.4 453.9C231.1 457.3 228.7 460.9 226.5 464.0C224.3 467.1 223.4 470.8 219.5 472.6C215.6 474.4 208.4 475.1 203.3 475.0C198.2 474.9 193.2 474.3 189.2 471.8C185.2 469.3 181.8 464.0 179.1 460.0C176.4 456.0 174.2 451.9 173.2 447.8C172.1 443.8 172.5 438.9 172.8 435.7C173.1 432.5 171.2 430.3 175.0 428.9Z" fill="none" stroke="#8a2206" stroke-width="1.0" stroke-opacity="0.75"/></g>
<g filter="url(#vsoft)"><g clip-path="url(#c1)"><g filter="url(#mottle)"><path d="M133.6 401.4C136.6 401.2 141.5 402.1 145.2 402.9C148.9 403.7 153.0 404.7 155.6 406.2C158.2 407.7 158.9 409.3 160.7 412.0C162.5 414.7 165.8 419.3 166.6 422.3C167.4 425.3 166.4 427.1 165.3 430.1C164.2 433.1 161.5 437.0 160.1 440.4C158.7 443.8 158.3 447.9 156.9 450.7C155.5 453.5 154.7 455.8 151.7 457.2C148.7 458.6 143.1 458.9 138.8 458.8C134.5 458.7 129.0 458.2 125.8 456.8C122.6 455.4 121.4 453.4 119.4 450.7C117.4 448.0 115.1 444.3 113.6 440.4C112.1 436.5 110.6 430.9 110.3 427.5C110.0 424.1 110.1 422.5 111.6 419.7C113.1 416.9 116.8 413.3 119.4 410.7C122.0 408.1 124.7 405.8 127.1 404.2C129.5 402.6 130.6 401.6 133.6 401.4Z" fill="url(#g1)"/></g><path d="M118.0 412.0C121.7 408.7 129.3 404.7 135.0 404.0C140.7 403.3 147.8 405.3 152.0 408.0C156.2 410.7 160.3 416.3 160.0 420.0C159.7 423.7 154.2 428.7 150.0 430.0C145.8 431.3 139.7 427.7 135.0 428.0C130.3 428.3 125.7 432.7 122.0 432.0C118.3 431.3 113.7 427.3 113.0 424.0C112.3 420.7 114.3 415.3 118.0 412.0Z" fill="#a92206" opacity="0.55" filter="url(#b1)"/><path d="M117.0 436.0C117.7 433.2 121.7 432.0 124.0 432.0C126.3 432.0 129.5 433.7 131.0 436.0C132.5 438.3 133.5 443.2 133.0 446.0C132.5 448.8 130.2 452.5 128.0 453.0C125.8 453.5 121.8 451.8 120.0 449.0C118.2 446.2 116.3 438.8 117.0 436.0Z" fill="#ee6a18" opacity="0.9" filter="url(#b1)"/><path d="M134.0 432.0C135.5 428.8 139.0 427.0 142.0 427.0C145.0 427.0 149.8 429.2 152.0 432.0C154.2 434.8 155.7 440.2 155.0 444.0C154.3 447.8 150.8 453.0 148.0 455.0C145.2 457.0 140.5 457.5 138.0 456.0C135.5 454.5 133.7 450.0 133.0 446.0C132.3 442.0 132.5 435.2 134.0 432.0Z" fill="#ea5c12" opacity="0.9" filter="url(#b1)"/><path d="M130.0 412.0C130.5 413.3 131.8 417.3 133.0 420.0C134.2 422.7 136.3 426.7 137.0 428.0" fill="none" stroke="#8e1c04" stroke-width="1.6" opacity="0.7" stroke-linecap="round" filter="url(#b05)"/><path d="M138.0 410.0C138.7 411.5 140.7 416.0 142.0 419.0C143.3 422.0 145.3 426.5 146.0 428.0" fill="none" stroke="#8e1c04" stroke-width="1.4" opacity="0.6" stroke-linecap="round" filter="url(#b05)"/><path d="M146.0 417.0C146.7 418.3 148.8 422.5 150.0 425.0C151.2 427.5 152.5 430.8 153.0 432.0" fill="none" stroke="#8e1c04" stroke-width="1.3" opacity="0.55" stroke-linecap="round" filter="url(#b05)"/><path d="M127.0 416.0C127.5 417.3 129.3 421.7 130.0 424.0C130.7 426.3 130.8 429.0 131.0 430.0" fill="none" stroke="#e8622a" stroke-width="1.0" opacity="0.7" stroke-linecap="round" filter="url(#b05)"/><path d="M143.0 422.0C143.5 423.2 145.5 427.8 146.0 429.0" fill="none" stroke="#e8622a" stroke-width="1.0" opacity="0.7" stroke-linecap="round" filter="url(#b05)"/><ellipse cx="156.5" cy="412.5" rx="2.6" ry="4.6" fill="#f8a848" transform="rotate(-35 156.5 412.5)" opacity="0.95" filter="url(#soft)"/><ellipse cx="161" cy="419" rx="2" ry="5" fill="#f07a28" transform="rotate(-15 161 419)" opacity="0.7" filter="url(#soft)"/><ellipse cx="126" cy="444" rx="3" ry="3" fill="#f8923a" opacity="0.7" filter="url(#b1)"/><ellipse cx="140" cy="450" rx="6" ry="3" fill="#f27a24" opacity="0.6" filter="url(#b1)"/><path d="M133.6 401.4C136.6 401.2 141.5 402.1 145.2 402.9C148.9 403.7 153.0 404.7 155.6 406.2C158.2 407.7 158.9 409.3 160.7 412.0C162.5 414.7 165.8 419.3 166.6 422.3C167.4 425.3 166.4 427.1 165.3 430.1C164.2 433.1 161.5 437.0 160.1 440.4C158.7 443.8 158.3 447.9 156.9 450.7C155.5 453.5 154.7 455.8 151.7 457.2C148.7 458.6 143.1 458.9 138.8 458.8C134.5 458.7 129.0 458.2 125.8 456.8C122.6 455.4 121.4 453.4 119.4 450.7C117.4 448.0 115.1 444.3 113.6 440.4C112.1 436.5 110.6 430.9 110.3 427.5C110.0 424.1 110.1 422.5 111.6 419.7C113.1 416.9 116.8 413.3 119.4 410.7C122.0 408.1 124.7 405.8 127.1 404.2C129.5 402.6 130.6 401.6 133.6 401.4Z" fill="none" stroke="#a82606" stroke-width="4" opacity="0.7" filter="url(#b1)"/></g><path d="M133.6 401.4C136.6 401.2 141.5 402.1 145.2 402.9C148.9 403.7 153.0 404.7 155.6 406.2C158.2 407.7 158.9 409.3 160.7 412.0C162.5 414.7 165.8 419.3 166.6 422.3C167.4 425.3 166.4 427.1 165.3 430.1C164.2 433.1 161.5 437.0 160.1 440.4C158.7 443.8 158.3 447.9 156.9 450.7C155.5 453.5 154.7 455.8 151.7 457.2C148.7 458.6 143.1 458.9 138.8 458.8C134.5 458.7 129.0 458.2 125.8 456.8C122.6 455.4 121.4 453.4 119.4 450.7C117.4 448.0 115.1 444.3 113.6 440.4C112.1 436.5 110.6 430.9 110.3 427.5C110.0 424.1 110.1 422.5 111.6 419.7C113.1 416.9 116.8 413.3 119.4 410.7C122.0 408.1 124.7 405.8 127.1 404.2C129.5 402.6 130.6 401.6 133.6 401.4Z" fill="none" stroke="#7e1a04" stroke-width="1.1" stroke-opacity="0.75"/></g>
<g stroke="#363636" stroke-width="1.15" fill="none">
<path d="M57.2 388V611"/><path d="M52.5 392H304"/><path d="M52.5 605.3H66.5"/>
<path d="M87.8 372.5V611"/><path d="M83 376.6H354.6"/><path d="M83 605.3H97"/>
<path d="M396.2 471V606"/><path d="M388.4 474.8H403"/><path d="M391 602.6H407.5"/>
<path d="M598.4 421V611"/><path d="M504 425.8H601.6"/><path d="M586 605H602.5"/>
<path d="M642.9 455V611"/><path d="M511 459.4H646.4"/><path d="M631 605H646.5"/>
<path d="M52.2 387L61.7 396.5" stroke-width="1.35"/>
<path d="M82.8 371.6L92.3 381.1" stroke-width="1.35"/>
<path d="M391.3 470.4L400.8 479.9" stroke-width="1.35"/>
<path d="M52.7 601.3L60.2 608.8" stroke-width="1.35"/>
<path d="M83.3 601.3L90.8 608.8" stroke-width="1.35"/>
<path d="M391.8 598.9L399.3 606.4" stroke-width="1.35"/>
<path d="M593.9 430.3L603.4 420.8" stroke-width="1.35"/>
<path d="M638.4 463.9L647.9 454.4" stroke-width="1.35"/>
<path d="M593.9 609.4L602.4 600.9" stroke-width="1.35"/>
<path d="M638.4 609.4L646.9 600.9" stroke-width="1.35"/>
</g>
<g opacity="0.999">
<text class="serif" transform="translate(50,515.4) rotate(-90)" font-size="13" letter-spacing="1.15" fill="#111" stroke="#111" stroke-width="0.25">1300<tspan font-size="8.6" letter-spacing="0">mm</tspan></text>
<text class="serif" transform="translate(81.3,535.8) rotate(-90)" font-size="13" letter-spacing="1.15" fill="#111" stroke="#111" stroke-width="0.25">1400<tspan font-size="8.6" letter-spacing="0">mm</tspan></text>
<text class="serif" transform="translate(387,550.8) rotate(-90)" font-size="13" letter-spacing="1.15" fill="#111" stroke="#111" stroke-width="0.25">800<tspan font-size="8.6" letter-spacing="0">mm</tspan></text>
<text class="serif" transform="translate(603.4,503.0) rotate(90)" font-size="13" letter-spacing="1.15" fill="#111" stroke="#111" stroke-width="0.25">1100<tspan font-size="8.6" letter-spacing="0">mm</tspan></text>
<text class="serif" transform="translate(646.6,512.0) rotate(90)" font-size="13" letter-spacing="1.15" fill="#111" stroke="#111" stroke-width="0.25">900<tspan font-size="8.6" letter-spacing="0">mm</tspan></text>
</g>
</g>
</svg>
</body></html>
